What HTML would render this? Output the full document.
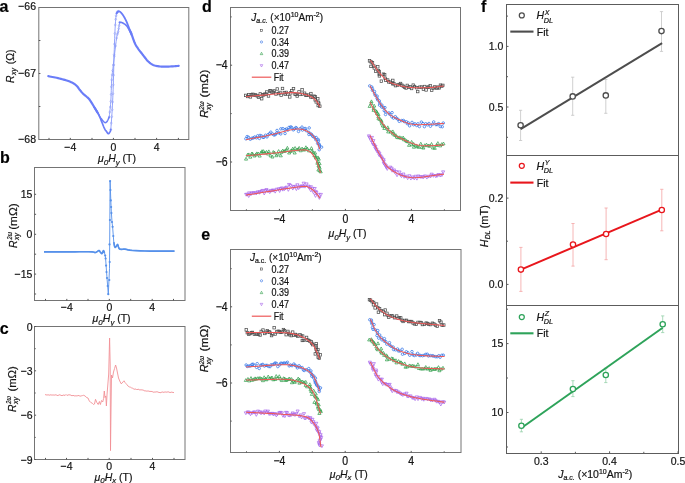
<!DOCTYPE html><html><head><meta charset="utf-8"><style>html,body{margin:0;padding:0;background:#fff;width:685px;height:483px;overflow:hidden}svg{display:block;will-change:transform}text{font-family:"Liberation Sans",sans-serif;fill:#141414;stroke:#141414;stroke-width:0.2px}</style></head><body>
<svg width="685" height="483" viewBox="0 0 685 483">
<g>
<rect width="685" height="483" fill="#fff"/>
<text x="-0.6" y="11.8" font-size="16" text-anchor="start" font-weight="bold" style="fill:#000">a</text>
<text x="0" y="162.5" font-size="16" text-anchor="start" font-weight="bold" style="fill:#000">b</text>
<text x="-0.3" y="334" font-size="16" text-anchor="start" font-weight="bold" style="fill:#000">c</text>
<text x="202" y="11.8" font-size="16" text-anchor="start" font-weight="bold" style="fill:#000">d</text>
<text x="201.2" y="240.3" font-size="16" text-anchor="start" font-weight="bold" style="fill:#000">e</text>
<text x="481" y="11.8" font-size="16" text-anchor="start" font-weight="bold" style="fill:#000">f</text>
<rect x="38.8" y="7.5" width="150" height="132" fill="none" stroke="#747474" stroke-width="1"/>
<text transform="translate(36,10.3) scale(1,1.1)" font-size="10.5" text-anchor="end" >−66</text>
<text transform="translate(36,77.1) scale(1,1.1)" font-size="10.5" text-anchor="end" >−67</text>
<text transform="translate(36,143.2) scale(1,1.1)" font-size="10.5" text-anchor="end" >−68</text>
<line x1="38.8" y1="40.5" x2="40.4" y2="40.5" stroke="#555" stroke-width="1" />
<line x1="38.8" y1="73.5" x2="40.4" y2="73.5" stroke="#555" stroke-width="1" />
<line x1="38.8" y1="106.5" x2="40.4" y2="106.5" stroke="#555" stroke-width="1" />
<text transform="translate(70.3,151) scale(1,1.1)" font-size="10.5" text-anchor="middle" >−4</text>
<text transform="translate(113.4,151) scale(1,1.1)" font-size="10.5" text-anchor="middle" >0</text>
<text transform="translate(156.6,151) scale(1,1.1)" font-size="10.5" text-anchor="middle" >4</text>
<line x1="49" y1="139.5" x2="49" y2="137.9" stroke="#555" stroke-width="1" />
<line x1="70.3" y1="139.5" x2="70.3" y2="137.9" stroke="#555" stroke-width="1" />
<line x1="92" y1="139.5" x2="92" y2="137.9" stroke="#555" stroke-width="1" />
<line x1="113.4" y1="139.5" x2="113.4" y2="137.9" stroke="#555" stroke-width="1" />
<line x1="135" y1="139.5" x2="135" y2="137.9" stroke="#555" stroke-width="1" />
<line x1="156.6" y1="139.5" x2="156.6" y2="137.9" stroke="#555" stroke-width="1" />
<line x1="178.4" y1="139.5" x2="178.4" y2="137.9" stroke="#555" stroke-width="1" />
<polyline points="110.8,129.5 111.04,126.26 111.28,123.09 111.52,119.92 111.76,116.68 111.98,113.3 112.2,109.7 112.4,105.91 112.6,101.97 112.79,97.89 112.97,93.67 113.14,89.31 113.3,84.8 113.45,80.08 113.57,75.14 113.69,70.06 113.81,64.9 113.95,59.76 114.1,54.7 114.28,49.51 114.47,44.07 114.67,38.64 114.88,33.47 115.09,28.81 115.3,24.9 115.5,21.8 115.7,19.33 115.9,17.36 116.11,15.78 116.34,14.47 116.6,13.3 116.89,12.41 117.21,11.92 117.56,11.7 117.91,11.61 118.26,11.52 118.6,11.3" fill="none" stroke="#8597fa" stroke-width="0.9" stroke-opacity="1" stroke-linejoin="round" stroke-linecap="round"/>
<polyline points="109.2,117.1 109.47,114.55 109.76,112.08 110.04,109.61 110.32,107.06 110.57,104.35 110.8,101.4 110.98,98.08 111.13,94.42 111.25,90.6 111.37,86.79 111.52,83.17 111.7,79.9 111.91,77.17 112.12,74.89 112.35,72.79 112.61,70.61 112.93,68.1 113.3,65 113.77,60.98 114.34,56.17 114.95,51.03 115.56,46.01 116.13,41.55 116.6,38.1 116.97,35.85 117.27,34.49 117.52,33.69 117.74,33.13 117.96,32.51 118.2,31.5 118.44,30.13 118.68,28.65 118.91,27.11 119.14,25.53 119.37,23.95 119.6,22.4" fill="none" stroke="#8597fa" stroke-width="0.9" stroke-opacity="1" stroke-linejoin="round" stroke-linecap="round"/>
<circle cx="110.8" cy="129.5" r="0.9" fill="none" stroke="#8d9bf5" stroke-width="0.5"/>
<circle cx="111.28" cy="123.09" r="0.9" fill="none" stroke="#8d9bf5" stroke-width="0.5"/>
<circle cx="111.76" cy="116.68" r="0.9" fill="none" stroke="#8d9bf5" stroke-width="0.5"/>
<circle cx="112.2" cy="109.7" r="0.9" fill="none" stroke="#8d9bf5" stroke-width="0.5"/>
<circle cx="112.6" cy="101.97" r="0.9" fill="none" stroke="#8d9bf5" stroke-width="0.5"/>
<circle cx="112.97" cy="93.67" r="0.9" fill="none" stroke="#8d9bf5" stroke-width="0.5"/>
<circle cx="113.3" cy="84.8" r="0.9" fill="none" stroke="#8d9bf5" stroke-width="0.5"/>
<circle cx="113.57" cy="75.14" r="0.9" fill="none" stroke="#8d9bf5" stroke-width="0.5"/>
<circle cx="113.81" cy="64.9" r="0.9" fill="none" stroke="#8d9bf5" stroke-width="0.5"/>
<circle cx="114.1" cy="54.7" r="0.9" fill="none" stroke="#8d9bf5" stroke-width="0.5"/>
<circle cx="114.47" cy="44.07" r="0.9" fill="none" stroke="#8d9bf5" stroke-width="0.5"/>
<circle cx="114.88" cy="33.47" r="0.9" fill="none" stroke="#8d9bf5" stroke-width="0.5"/>
<circle cx="115.3" cy="24.9" r="0.9" fill="none" stroke="#8d9bf5" stroke-width="0.5"/>
<circle cx="115.7" cy="19.33" r="0.9" fill="none" stroke="#8d9bf5" stroke-width="0.5"/>
<circle cx="116.11" cy="15.78" r="0.9" fill="none" stroke="#8d9bf5" stroke-width="0.5"/>
<circle cx="116.6" cy="13.3" r="0.9" fill="none" stroke="#8d9bf5" stroke-width="0.5"/>
<circle cx="117.21" cy="11.92" r="0.9" fill="none" stroke="#8d9bf5" stroke-width="0.5"/>
<circle cx="117.91" cy="11.61" r="0.9" fill="none" stroke="#8d9bf5" stroke-width="0.5"/>
<circle cx="118.6" cy="11.3" r="0.9" fill="none" stroke="#8d9bf5" stroke-width="0.5"/>
<circle cx="109.2" cy="117.1" r="0.9" fill="none" stroke="#8d9bf5" stroke-width="0.5"/>
<circle cx="109.76" cy="112.08" r="0.9" fill="none" stroke="#8d9bf5" stroke-width="0.5"/>
<circle cx="110.32" cy="107.06" r="0.9" fill="none" stroke="#8d9bf5" stroke-width="0.5"/>
<circle cx="110.8" cy="101.4" r="0.9" fill="none" stroke="#8d9bf5" stroke-width="0.5"/>
<circle cx="111.13" cy="94.42" r="0.9" fill="none" stroke="#8d9bf5" stroke-width="0.5"/>
<circle cx="111.37" cy="86.79" r="0.9" fill="none" stroke="#8d9bf5" stroke-width="0.5"/>
<circle cx="111.7" cy="79.9" r="0.9" fill="none" stroke="#8d9bf5" stroke-width="0.5"/>
<circle cx="112.12" cy="74.89" r="0.9" fill="none" stroke="#8d9bf5" stroke-width="0.5"/>
<circle cx="112.61" cy="70.61" r="0.9" fill="none" stroke="#8d9bf5" stroke-width="0.5"/>
<circle cx="113.3" cy="65" r="0.9" fill="none" stroke="#8d9bf5" stroke-width="0.5"/>
<circle cx="114.34" cy="56.17" r="0.9" fill="none" stroke="#8d9bf5" stroke-width="0.5"/>
<circle cx="115.56" cy="46.01" r="0.9" fill="none" stroke="#8d9bf5" stroke-width="0.5"/>
<circle cx="116.6" cy="38.1" r="0.9" fill="none" stroke="#8d9bf5" stroke-width="0.5"/>
<circle cx="117.27" cy="34.49" r="0.9" fill="none" stroke="#8d9bf5" stroke-width="0.5"/>
<circle cx="117.74" cy="33.13" r="0.9" fill="none" stroke="#8d9bf5" stroke-width="0.5"/>
<circle cx="118.2" cy="31.5" r="0.9" fill="none" stroke="#8d9bf5" stroke-width="0.5"/>
<circle cx="118.68" cy="28.65" r="0.9" fill="none" stroke="#8d9bf5" stroke-width="0.5"/>
<circle cx="119.14" cy="25.53" r="0.9" fill="none" stroke="#8d9bf5" stroke-width="0.5"/>
<circle cx="119.6" cy="22.4" r="0.9" fill="none" stroke="#8d9bf5" stroke-width="0.5"/>
<polyline points="48.3,76.2 49.68,76.46 51.07,76.71 52.46,76.97 53.84,77.23 55.22,77.5 56.6,77.8 58.01,78.13 59.46,78.48 60.91,78.84 62.31,79.21 63.62,79.57 64.8,79.9 65.83,80.2 66.74,80.49 67.56,80.76 68.32,81.03 69.06,81.3 69.8,81.6 70.54,81.91 71.26,82.21 71.95,82.52 72.62,82.86 73.27,83.21 73.9,83.6 74.52,84.03 75.12,84.49 75.71,84.97 76.27,85.47 76.8,85.98 77.3,86.5 77.75,87.02 78.14,87.55 78.51,88.09 78.87,88.65 79.26,89.22 79.7,89.8 80.2,90.41 80.73,91.06 81.29,91.72 81.86,92.38 82.43,93.01 83,93.6 83.56,94.13 84.13,94.62 84.7,95.08 85.27,95.54 85.84,96 86.4,96.5 86.94,96.98 87.46,97.42 87.98,97.87 88.51,98.38 89.08,99.01 89.7,99.8 90.41,100.82 91.19,102.04 92.01,103.37 92.82,104.74 93.6,106.04 94.3,107.2 94.91,108.2 95.47,109.12 95.99,109.98 96.49,110.81 96.98,111.64 97.5,112.5" fill="none" stroke="#6a7df8" stroke-width="2.2" stroke-opacity="1" stroke-linejoin="round" stroke-linecap="round"/>
<polyline points="94.3,107.2 94.84,108.09 95.39,108.98 95.94,109.87 96.49,110.76 97.01,111.63 97.5,112.5 97.94,113.29 98.32,113.99 98.69,114.68 99.07,115.44 99.49,116.36 100,117.5 100.62,119 101.34,120.82 102.11,122.79 102.88,124.74 103.59,126.5 104.2,127.9 104.7,128.91 105.12,129.66 105.49,130.21 105.83,130.66 106.16,131.06 106.5,131.5 106.84,132 107.17,132.5 107.48,132.96 107.79,133.34 108.09,133.6 108.4,133.7 108.72,133.59 109.05,133.29 109.38,132.86 109.69,132.38 109.97,131.91 110.2,131.5 110.37,131.16 110.49,130.82 110.58,130.49 110.64,130.16 110.71,129.83 110.8,129.5" fill="none" stroke="#6a7df8" stroke-width="1.7" stroke-opacity="1" stroke-linejoin="round" stroke-linecap="round"/>
<polyline points="94.3,107.2 94.84,108.06 95.39,108.92 95.94,109.79 96.49,110.64 97.01,111.48 97.5,112.3 97.96,113.1 98.38,113.88 98.79,114.64 99.19,115.39 99.59,116.11 100,116.8 100.43,117.47 100.87,118.12 101.31,118.74 101.74,119.34 102.18,119.89 102.6,120.4 103.02,120.89 103.43,121.36 103.84,121.79 104.24,122.16 104.63,122.44 105,122.6 105.35,122.65 105.69,122.6 106.01,122.46 106.33,122.23 106.66,121.91 107,121.5 107.36,120.96 107.72,120.28 108.09,119.51 108.46,118.69 108.83,117.87 109.2,117.1" fill="none" stroke="#6a7df8" stroke-width="1.5" stroke-opacity="1" stroke-linejoin="round" stroke-linecap="round"/>
<polyline points="116.6,13.3 116.92,12.92 117.23,12.49 117.54,12.05 117.86,11.67 118.21,11.4 118.6,11.3 119.03,11.35 119.49,11.5 119.97,11.76 120.48,12.14 121.02,12.65 121.6,13.3 122.22,14.1 122.89,15.04 123.58,16.11 124.29,17.29 125,18.56 125.7,19.9 126.41,21.43 127.16,23.19 127.9,25.03 128.61,26.84 129.26,28.47 129.8,29.8 130.22,30.78 130.54,31.49 130.8,32.04 131.02,32.5 131.24,32.96 131.5,33.5" fill="none" stroke="#6a7df8" stroke-width="1.8" stroke-opacity="1" stroke-linejoin="round" stroke-linecap="round"/>
<polyline points="119.6,22.4 119.86,22.39 120.12,22.37 120.38,22.35 120.64,22.34 120.91,22.35 121.2,22.4 121.5,22.47 121.79,22.54 122.09,22.64 122.42,22.78 122.79,22.96 123.2,23.2 123.68,23.49 124.21,23.82 124.79,24.2 125.37,24.63 125.95,25.13 126.5,25.7 127.03,26.37 127.56,27.15 128.08,27.99 128.59,28.85 129.06,29.7 129.5,30.5 129.89,31.25 130.24,31.97 130.56,32.68 130.87,33.39 131.18,34.09 131.5,34.8" fill="none" stroke="#6a7df8" stroke-width="1.6" stroke-opacity="1" stroke-linejoin="round" stroke-linecap="round"/>
<polyline points="129.8,30.5 130.06,31.06 130.31,31.54 130.55,32.03 130.81,32.58 131.12,33.28 131.5,34.2 131.96,35.42 132.49,36.91 133.06,38.54 133.65,40.2 134.24,41.76 134.8,43.1 135.34,44.21 135.87,45.19 136.39,46.07 136.92,46.9 137.46,47.69 138,48.5 138.56,49.31 139.13,50.09 139.71,50.84 140.28,51.57 140.85,52.29 141.4,53 141.93,53.69 142.44,54.36 142.94,55.01 143.45,55.66 143.96,56.32 144.5,57 145.04,57.71 145.58,58.44 146.13,59.17 146.71,59.91 147.33,60.62 148,61.3 148.75,61.97 149.56,62.64 150.41,63.29 151.28,63.9 152.15,64.44 153,64.9 153.83,65.26 154.67,65.54 155.5,65.75 156.33,65.92 157.17,66.06 158,66.2 158.81,66.32 159.59,66.42 160.38,66.49 161.19,66.54 162.05,66.57 163,66.6 164.03,66.62 165.12,66.62 166.27,66.61 167.47,66.59 168.71,66.55 170,66.5 171.35,66.43 172.77,66.34 174.24,66.23 175.74,66.12 177.23,66.01 178.7,65.9" fill="none" stroke="#6a7df8" stroke-width="2.2" stroke-opacity="1" stroke-linejoin="round" stroke-linecap="round"/>
<g transform="translate(13.9,82.9) rotate(-90)"><text x="0" y="0" font-size="10.5" font-style="italic">R</text><text x="7.8" y="2.4" font-size="7" font-style="italic">xy</text><text x="18.6" y="0" font-size="10.5">(Ω)</text></g>
<text x="98" y="162.3" font-size="10.5"><tspan font-style="italic">μ</tspan><tspan font-style="italic" font-size="7.98" dy="2.52">0</tspan><tspan font-style="italic" dy="-2.52">H</tspan><tspan font-style="italic" font-size="7.77" dy="2.52">y</tspan><tspan dy="-2.52"> (T)</tspan></text>
<rect x="34.5" y="167.5" width="150.5" height="133" fill="none" stroke="#747474" stroke-width="1"/>
<text transform="translate(32.3,198.3) scale(1,1.1)" font-size="10.5" text-anchor="end" >15</text>
<line x1="34.5" y1="194.3" x2="36.1" y2="194.3" stroke="#555" stroke-width="1" />
<text transform="translate(32.3,238.3) scale(1,1.1)" font-size="10.5" text-anchor="end" >0</text>
<line x1="34.5" y1="234.3" x2="36.1" y2="234.3" stroke="#555" stroke-width="1" />
<text transform="translate(32.3,278.1) scale(1,1.1)" font-size="10.5" text-anchor="end" >−15</text>
<line x1="34.5" y1="274.1" x2="36.1" y2="274.1" stroke="#555" stroke-width="1" />
<line x1="34.5" y1="214.3" x2="36.1" y2="214.3" stroke="#555" stroke-width="1" />
<line x1="34.5" y1="254.2" x2="36.1" y2="254.2" stroke="#555" stroke-width="1" />
<line x1="34.5" y1="294" x2="36.1" y2="294" stroke="#555" stroke-width="1" />
<text transform="translate(66.8,311.4) scale(1,1.1)" font-size="10.5" text-anchor="middle" >−4</text>
<text transform="translate(109.3,311.4) scale(1,1.1)" font-size="10.5" text-anchor="middle" >0</text>
<text transform="translate(152.2,311.4) scale(1,1.1)" font-size="10.5" text-anchor="middle" >4</text>
<line x1="45.5" y1="300.5" x2="45.5" y2="298.9" stroke="#555" stroke-width="1" />
<line x1="66.8" y1="300.5" x2="66.8" y2="298.9" stroke="#555" stroke-width="1" />
<line x1="88" y1="300.5" x2="88" y2="298.9" stroke="#555" stroke-width="1" />
<line x1="109.3" y1="300.5" x2="109.3" y2="298.9" stroke="#555" stroke-width="1" />
<line x1="130.7" y1="300.5" x2="130.7" y2="298.9" stroke="#555" stroke-width="1" />
<line x1="152.2" y1="300.5" x2="152.2" y2="298.9" stroke="#555" stroke-width="1" />
<line x1="173.5" y1="300.5" x2="173.5" y2="298.9" stroke="#555" stroke-width="1" />
<polyline points="44,251.9 60,251.9 75,251.8 92,251.8 95,252.6 97,251.7 99,250.5 100.5,252.4 102,253.6 103.5,250.6 104.5,253 105.2,255.5 105.6,258.5 106.1,265.6 107,278 108.3,294.2 109.5,268.7 110.1,181.1 110.8,200.4 111.4,213 112,222 112.6,226.8 113.3,236 113.8,242.2 114.5,246 115.5,247.3 117.5,244.5 118.5,247 119.5,249 122,249.3 125,249.2 132.5,250.5 150,251.1 174.5,251.1" fill="none" stroke="#5590ea" stroke-width="0.9" stroke-linejoin="round"/>
<polyline points="44,251.9 48.02,251.9 52.06,251.91 56.07,251.91 60,251.9 63.77,251.88 67.44,251.85 71.13,251.82 75,251.8 79.44,251.77 84.25,251.74 88.69,251.74 92,251.8 93.76,251.98 94.44,252.26 94.65,252.5 95,252.6 95.57,252.5 96.06,252.28 96.52,251.99 97,251.7 97.51,251.35 98.03,250.92 98.54,250.59 99,250.5 99.41,250.77 99.78,251.3 100.14,251.9 100.5,252.4 100.88,252.85 101.25,253.31 101.62,253.61 102,253.6 102.39,253.02 102.78,252.02 103.16,251.07 103.5,250.6 103.79,250.82 104.03,251.46 104.26,252.27 104.5,253" fill="none" stroke="#5590ea" stroke-width="1.7" stroke-linejoin="round"/>
<polyline points="113.8,242.2 113.97,243.21 114.13,244.26 114.3,245.23 114.5,246 114.71,246.6 114.92,247.06 115.17,247.32 115.5,247.3 115.95,246.76 116.5,245.83 117.05,244.92 117.5,244.5 117.82,244.76 118.06,245.45 118.27,246.29 118.5,247 118.71,247.57 118.91,248.14 119.14,248.63 119.5,249 120.01,249.2 120.62,249.28 121.3,249.29 122,249.3 122.61,249.27 123.19,249.19 123.92,249.14 125,249.2 126.32,249.44 127.84,249.81 129.82,250.19 132.5,250.5 136.01,250.71 140.19,250.88 144.9,251.01 150,251.1 155.63,251.14 161.81,251.14 168.21,251.11 174.5,251.1" fill="none" stroke="#5590ea" stroke-width="1.7" stroke-linejoin="round"/>
<circle cx="108.3" cy="294.2" r="1.1" fill="#5590ea"/>
<circle cx="107.7" cy="286" r="1.1" fill="#5590ea"/>
<circle cx="107" cy="278" r="1.1" fill="#5590ea"/>
<circle cx="106.5" cy="272" r="1.1" fill="#5590ea"/>
<circle cx="106.1" cy="265.6" r="1.1" fill="#5590ea"/>
<circle cx="105.6" cy="258.5" r="1.1" fill="#5590ea"/>
<circle cx="105.2" cy="255.5" r="1.1" fill="#5590ea"/>
<circle cx="110.1" cy="181.1" r="1.1" fill="#5590ea"/>
<circle cx="110.4" cy="190" r="1.1" fill="#5590ea"/>
<circle cx="110.8" cy="200.4" r="1.1" fill="#5590ea"/>
<circle cx="111.1" cy="207" r="1.1" fill="#5590ea"/>
<circle cx="111.4" cy="213" r="1.1" fill="#5590ea"/>
<circle cx="112" cy="222" r="1.1" fill="#5590ea"/>
<circle cx="112.6" cy="226.8" r="1.1" fill="#5590ea"/>
<circle cx="113.3" cy="236" r="1.1" fill="#5590ea"/>
<circle cx="109.5" cy="244.4" r="1.1" fill="#5590ea"/>
<circle cx="109.7" cy="262" r="1.1" fill="#5590ea"/>
<circle cx="109.3" cy="280" r="1.1" fill="#5590ea"/>
<circle cx="109.9" cy="220" r="1.1" fill="#5590ea"/>
<g transform="translate(16.5,248) rotate(-90)">
<text x="0" y="0" font-size="10.5" font-style="italic">R</text>
<text x="8.6" y="-4.8" font-size="6.8" font-style="italic" textLength="7.4" lengthAdjust="spacingAndGlyphs">2ω</text>
<text x="8" y="2.6" font-size="7" font-style="italic">xy</text>
<text x="18.2" y="0" font-size="11" textLength="26.4" lengthAdjust="spacingAndGlyphs">(mΩ)</text>
</g>
<text x="92.6" y="322" font-size="10.5"><tspan font-style="italic">μ</tspan><tspan font-style="italic" font-size="7.98" dy="2.52">0</tspan><tspan font-style="italic" dy="-2.52">H</tspan><tspan font-style="italic" font-size="7.77" dy="2.52">y</tspan><tspan dy="-2.52"> (T)</tspan></text>
<rect x="34.5" y="326.5" width="150.5" height="133" fill="none" stroke="#747474" stroke-width="1"/>
<text transform="translate(32.6,330.5) scale(1,1.1)" font-size="10.5" text-anchor="end" >0</text>
<line x1="34.5" y1="326.5" x2="36.1" y2="326.5" stroke="#555" stroke-width="1" />
<text transform="translate(32.6,374.8) scale(1,1.1)" font-size="10.5" text-anchor="end" >−3</text>
<line x1="34.5" y1="370.8" x2="36.1" y2="370.8" stroke="#555" stroke-width="1" />
<text transform="translate(32.6,419.2) scale(1,1.1)" font-size="10.5" text-anchor="end" >−6</text>
<line x1="34.5" y1="415.2" x2="36.1" y2="415.2" stroke="#555" stroke-width="1" />
<text transform="translate(32.6,463.5) scale(1,1.1)" font-size="10.5" text-anchor="end" >−9</text>
<line x1="34.5" y1="459.5" x2="36.1" y2="459.5" stroke="#555" stroke-width="1" />
<line x1="34.5" y1="348.7" x2="35.7" y2="348.7" stroke="#555" stroke-width="1" />
<line x1="34.5" y1="393" x2="35.7" y2="393" stroke="#555" stroke-width="1" />
<line x1="34.5" y1="437.4" x2="35.7" y2="437.4" stroke="#555" stroke-width="1" />
<text transform="translate(66.5,470) scale(1,1.1)" font-size="10.5" text-anchor="middle" >−4</text>
<text transform="translate(109.2,470) scale(1,1.1)" font-size="10.5" text-anchor="middle" >0</text>
<text transform="translate(152.5,470) scale(1,1.1)" font-size="10.5" text-anchor="middle" >4</text>
<line x1="45.5" y1="459.5" x2="45.5" y2="457.9" stroke="#555" stroke-width="1" />
<line x1="66.5" y1="459.5" x2="66.5" y2="457.9" stroke="#555" stroke-width="1" />
<line x1="88" y1="459.5" x2="88" y2="457.9" stroke="#555" stroke-width="1" />
<line x1="109.2" y1="459.5" x2="109.2" y2="457.9" stroke="#555" stroke-width="1" />
<line x1="131" y1="459.5" x2="131" y2="457.9" stroke="#555" stroke-width="1" />
<line x1="152.5" y1="459.5" x2="152.5" y2="457.9" stroke="#555" stroke-width="1" />
<line x1="174" y1="459.5" x2="174" y2="457.9" stroke="#555" stroke-width="1" />
<polyline points="45,394.79 46,394.62 47,395.26 48,394.61 49,395.2 50,395.04 51,394.71 52,395.29 53,394.76 54,395.28 55,394.88 56,394.87 57,395.24 58,395.68 59,394.8 60,394.89 61,395.33 62,395.68 63,395.2 64,394.95 65,395.61 66,394.46 67,395.52 68,394.93 69,394.84 70,394.9 71,395.21 72,395.91 73,395.24 74,395.81 75,395.97 76,395.73 77,396.02 78,395.52 79,395.59 80,396.2 81.2,395.9 82.4,395.6 83.6,395.3 85.2,396 86.5,397.5 88,398 89.3,401 90.6,402.3 92.4,403.3 93.5,404.5 94.5,404 95.5,399.3 96.8,402.5 98.2,404.5 99.4,401.5 100.4,404.5 101.5,400.5 102.7,402 103.6,398.5 104.3,391 105,397.5 105.8,396 106.4,406 107,395 107.8,385 108.7,374 109.6,338 110.2,365 110.5,450.6 111,410 111.5,375 112.5,378 113.5,372 114.55,368.5 115.6,365 116.5,368 117.5,373 118.5,378 119.75,381 121,383.65 122,383.22 123,381.91 124,380.78 125,382.44 126,383.61 127,384.76 128.17,386.19 129.33,386.91 130.5,387.19 131.62,387.96 132.75,388.28 133.88,389.08 135,389.28 136,388.91 137,389.91 138,389.04 139,389.57 140,390.14 141,389.58 142,390.15 143,389.78 144,390.7 145,390.94 146,390.84 147,391.33 148,390.78 149,391.36 150,391.36 151,391.47 152,391.45 153,392.03 154,392.28 155,391.84 156,392.2 157,391.51 158,392.31 159,392.28 160,392.73 161,392.55 162,391.94 163,392.1 164,392.47 165,391.73 166,392.29 167,391.97 168,391.94 169,391.9 170,392.79 171,392.06 172,392.23 173,392.44 174,392.6" fill="none" stroke="#f29196" stroke-width="0.9" stroke-linejoin="round"/>
<g transform="translate(15.5,412) rotate(-90)">
<text x="0" y="0" font-size="10.5" font-style="italic">R</text>
<text x="8.3" y="-4.8" font-size="6.8" font-style="italic" textLength="7.4" lengthAdjust="spacingAndGlyphs">2ω</text>
<text x="8" y="2.8" font-size="7" font-style="italic">xy</text>
<text x="20.4" y="0" font-size="11" textLength="25.5" lengthAdjust="spacingAndGlyphs">(mΩ)</text>
</g>
<text x="94.5" y="480.5" font-size="10.5"><tspan font-style="italic">μ</tspan><tspan font-style="italic" font-size="7.98" dy="2.52">0</tspan><tspan font-style="italic" dy="-2.52">H</tspan><tspan font-style="italic" font-size="7.77" dy="2.52">x</tspan><tspan dy="-2.52"> (T)</tspan></text>
<rect x="230.5" y="7.5" width="230" height="203" fill="none" stroke="#747474" stroke-width="1"/>
<text transform="translate(227.6,69.4) scale(1,1.16)" font-size="10.5" text-anchor="end" >−4</text>
<line x1="230.5" y1="65.2" x2="232.1" y2="65.2" stroke="#555" stroke-width="1" />
<text transform="translate(227.6,166.2) scale(1,1.16)" font-size="10.5" text-anchor="end" >−6</text>
<line x1="230.5" y1="162" x2="232.1" y2="162" stroke="#555" stroke-width="1" />
<line x1="230.5" y1="16.9" x2="231.7" y2="16.9" stroke="#555" stroke-width="1" />
<line x1="230.5" y1="113.6" x2="231.7" y2="113.6" stroke="#555" stroke-width="1" />
<text transform="translate(279.4,223.3) scale(1,1.16)" font-size="10.5" text-anchor="middle" >−4</text>
<line x1="279.4" y1="210.5" x2="279.4" y2="208.9" stroke="#555" stroke-width="1" />
<text transform="translate(345.4,223.3) scale(1,1.16)" font-size="10.5" text-anchor="middle" >0</text>
<line x1="345.4" y1="210.5" x2="345.4" y2="208.9" stroke="#555" stroke-width="1" />
<text transform="translate(411.4,223.3) scale(1,1.16)" font-size="10.5" text-anchor="middle" >4</text>
<line x1="411.4" y1="210.5" x2="411.4" y2="208.9" stroke="#555" stroke-width="1" />
<line x1="246.4" y1="210.5" x2="246.4" y2="209.3" stroke="#555" stroke-width="1" />
<line x1="312.4" y1="210.5" x2="312.4" y2="209.3" stroke="#555" stroke-width="1" />
<line x1="378.4" y1="210.5" x2="378.4" y2="209.3" stroke="#555" stroke-width="1" />
<line x1="444.4" y1="210.5" x2="444.4" y2="209.3" stroke="#555" stroke-width="1" />
<rect x="244.63" y="94.16" width="2.5" height="2.5" fill="none" stroke="#4a4a4a" stroke-width="0.72"/>
<rect x="246.35" y="95.24" width="2.5" height="2.5" fill="none" stroke="#4a4a4a" stroke-width="0.72"/>
<rect x="247.45" y="93.38" width="2.5" height="2.5" fill="none" stroke="#4a4a4a" stroke-width="0.72"/>
<rect x="249.18" y="95.64" width="2.5" height="2.5" fill="none" stroke="#4a4a4a" stroke-width="0.72"/>
<rect x="250.23" y="93.47" width="2.5" height="2.5" fill="none" stroke="#4a4a4a" stroke-width="0.72"/>
<rect x="251.56" y="93.06" width="2.5" height="2.5" fill="none" stroke="#4a4a4a" stroke-width="0.72"/>
<rect x="252.99" y="94" width="2.5" height="2.5" fill="none" stroke="#4a4a4a" stroke-width="0.72"/>
<rect x="254.34" y="93.67" width="2.5" height="2.5" fill="none" stroke="#4a4a4a" stroke-width="0.72"/>
<rect x="256.04" y="94.63" width="2.5" height="2.5" fill="none" stroke="#4a4a4a" stroke-width="0.72"/>
<rect x="257.24" y="95.91" width="2.5" height="2.5" fill="none" stroke="#4a4a4a" stroke-width="0.72"/>
<rect x="259.02" y="92.64" width="2.5" height="2.5" fill="none" stroke="#4a4a4a" stroke-width="0.72"/>
<rect x="260.43" y="97.48" width="2.5" height="2.5" fill="none" stroke="#4a4a4a" stroke-width="0.72"/>
<rect x="261.09" y="93.71" width="2.5" height="2.5" fill="none" stroke="#4a4a4a" stroke-width="0.72"/>
<rect x="262.34" y="93.66" width="2.5" height="2.5" fill="none" stroke="#4a4a4a" stroke-width="0.72"/>
<rect x="263.55" y="92.95" width="2.5" height="2.5" fill="none" stroke="#4a4a4a" stroke-width="0.72"/>
<rect x="264.81" y="92.88" width="2.5" height="2.5" fill="none" stroke="#4a4a4a" stroke-width="0.72"/>
<rect x="265.63" y="90.77" width="2.5" height="2.5" fill="none" stroke="#4a4a4a" stroke-width="0.72"/>
<rect x="267.25" y="94.72" width="2.5" height="2.5" fill="none" stroke="#4a4a4a" stroke-width="0.72"/>
<rect x="268.56" y="89.67" width="2.5" height="2.5" fill="none" stroke="#4a4a4a" stroke-width="0.72"/>
<rect x="269.57" y="89.63" width="2.5" height="2.5" fill="none" stroke="#4a4a4a" stroke-width="0.72"/>
<rect x="270.65" y="90.82" width="2.5" height="2.5" fill="none" stroke="#4a4a4a" stroke-width="0.72"/>
<rect x="272.14" y="91.06" width="2.5" height="2.5" fill="none" stroke="#4a4a4a" stroke-width="0.72"/>
<rect x="273.11" y="89.67" width="2.5" height="2.5" fill="none" stroke="#4a4a4a" stroke-width="0.72"/>
<rect x="274.66" y="92.73" width="2.5" height="2.5" fill="none" stroke="#4a4a4a" stroke-width="0.72"/>
<rect x="276.02" y="87.71" width="2.5" height="2.5" fill="none" stroke="#4a4a4a" stroke-width="0.72"/>
<rect x="277.42" y="92.25" width="2.5" height="2.5" fill="none" stroke="#4a4a4a" stroke-width="0.72"/>
<rect x="278.76" y="91.22" width="2.5" height="2.5" fill="none" stroke="#4a4a4a" stroke-width="0.72"/>
<rect x="279.91" y="93.99" width="2.5" height="2.5" fill="none" stroke="#4a4a4a" stroke-width="0.72"/>
<rect x="281.26" y="87.25" width="2.5" height="2.5" fill="none" stroke="#4a4a4a" stroke-width="0.72"/>
<rect x="283.07" y="91.55" width="2.5" height="2.5" fill="none" stroke="#4a4a4a" stroke-width="0.72"/>
<rect x="283.95" y="93" width="2.5" height="2.5" fill="none" stroke="#4a4a4a" stroke-width="0.72"/>
<rect x="285.08" y="91.18" width="2.5" height="2.5" fill="none" stroke="#4a4a4a" stroke-width="0.72"/>
<rect x="286.49" y="92.72" width="2.5" height="2.5" fill="none" stroke="#4a4a4a" stroke-width="0.72"/>
<rect x="288.52" y="95.66" width="2.5" height="2.5" fill="none" stroke="#4a4a4a" stroke-width="0.72"/>
<rect x="289.48" y="91.67" width="2.5" height="2.5" fill="none" stroke="#4a4a4a" stroke-width="0.72"/>
<rect x="290.62" y="89.55" width="2.5" height="2.5" fill="none" stroke="#4a4a4a" stroke-width="0.72"/>
<rect x="292.25" y="87.41" width="2.5" height="2.5" fill="none" stroke="#4a4a4a" stroke-width="0.72"/>
<rect x="293.78" y="93.04" width="2.5" height="2.5" fill="none" stroke="#4a4a4a" stroke-width="0.72"/>
<rect x="294.85" y="93.21" width="2.5" height="2.5" fill="none" stroke="#4a4a4a" stroke-width="0.72"/>
<rect x="295.95" y="94.78" width="2.5" height="2.5" fill="none" stroke="#4a4a4a" stroke-width="0.72"/>
<rect x="297.76" y="90.65" width="2.5" height="2.5" fill="none" stroke="#4a4a4a" stroke-width="0.72"/>
<rect x="298.76" y="93.18" width="2.5" height="2.5" fill="none" stroke="#4a4a4a" stroke-width="0.72"/>
<rect x="300.82" y="88.61" width="2.5" height="2.5" fill="none" stroke="#4a4a4a" stroke-width="0.72"/>
<rect x="301.1" y="93.04" width="2.5" height="2.5" fill="none" stroke="#4a4a4a" stroke-width="0.72"/>
<rect x="303.32" y="91.97" width="2.5" height="2.5" fill="none" stroke="#4a4a4a" stroke-width="0.72"/>
<rect x="304.49" y="93.81" width="2.5" height="2.5" fill="none" stroke="#4a4a4a" stroke-width="0.72"/>
<rect x="305.33" y="94.09" width="2.5" height="2.5" fill="none" stroke="#4a4a4a" stroke-width="0.72"/>
<rect x="307.42" y="93.9" width="2.5" height="2.5" fill="none" stroke="#4a4a4a" stroke-width="0.72"/>
<rect x="309.65" y="92.32" width="2.5" height="2.5" fill="none" stroke="#4a4a4a" stroke-width="0.72"/>
<rect x="309.58" y="95.67" width="2.5" height="2.5" fill="none" stroke="#4a4a4a" stroke-width="0.72"/>
<rect x="311.05" y="95.85" width="2.5" height="2.5" fill="none" stroke="#4a4a4a" stroke-width="0.72"/>
<rect x="312.86" y="94.95" width="2.5" height="2.5" fill="none" stroke="#4a4a4a" stroke-width="0.72"/>
<rect x="313.97" y="95.59" width="2.5" height="2.5" fill="none" stroke="#4a4a4a" stroke-width="0.72"/>
<rect x="313.94" y="98.6" width="2.5" height="2.5" fill="none" stroke="#4a4a4a" stroke-width="0.72"/>
<rect x="316.53" y="97.44" width="2.5" height="2.5" fill="none" stroke="#4a4a4a" stroke-width="0.72"/>
<rect x="314.99" y="100.67" width="2.5" height="2.5" fill="none" stroke="#4a4a4a" stroke-width="0.72"/>
<rect x="317.05" y="101.08" width="2.5" height="2.5" fill="none" stroke="#4a4a4a" stroke-width="0.72"/>
<rect x="317.52" y="102.06" width="2.5" height="2.5" fill="none" stroke="#4a4a4a" stroke-width="0.72"/>
<rect x="316.94" y="104.29" width="2.5" height="2.5" fill="none" stroke="#4a4a4a" stroke-width="0.72"/>
<rect x="318.55" y="104.95" width="2.5" height="2.5" fill="none" stroke="#4a4a4a" stroke-width="0.72"/>
<rect x="368.28" y="59.61" width="2.5" height="2.5" fill="none" stroke="#4a4a4a" stroke-width="0.72"/>
<rect x="369.88" y="60.66" width="2.5" height="2.5" fill="none" stroke="#4a4a4a" stroke-width="0.72"/>
<rect x="371.22" y="61.62" width="2.5" height="2.5" fill="none" stroke="#4a4a4a" stroke-width="0.72"/>
<rect x="369.71" y="65.14" width="2.5" height="2.5" fill="none" stroke="#4a4a4a" stroke-width="0.72"/>
<rect x="372.58" y="64.8" width="2.5" height="2.5" fill="none" stroke="#4a4a4a" stroke-width="0.72"/>
<rect x="373.05" y="66.7" width="2.5" height="2.5" fill="none" stroke="#4a4a4a" stroke-width="0.72"/>
<rect x="376.51" y="65.56" width="2.5" height="2.5" fill="none" stroke="#4a4a4a" stroke-width="0.72"/>
<rect x="374.37" y="70.1" width="2.5" height="2.5" fill="none" stroke="#4a4a4a" stroke-width="0.72"/>
<rect x="377.24" y="69.6" width="2.5" height="2.5" fill="none" stroke="#4a4a4a" stroke-width="0.72"/>
<rect x="378" y="70.56" width="2.5" height="2.5" fill="none" stroke="#4a4a4a" stroke-width="0.72"/>
<rect x="378.03" y="72.86" width="2.5" height="2.5" fill="none" stroke="#4a4a4a" stroke-width="0.72"/>
<rect x="378.15" y="74.63" width="2.5" height="2.5" fill="none" stroke="#4a4a4a" stroke-width="0.72"/>
<rect x="382.17" y="72.92" width="2.5" height="2.5" fill="none" stroke="#4a4a4a" stroke-width="0.72"/>
<rect x="383.4" y="73.55" width="2.5" height="2.5" fill="none" stroke="#4a4a4a" stroke-width="0.72"/>
<rect x="380.11" y="79.9" width="2.5" height="2.5" fill="none" stroke="#4a4a4a" stroke-width="0.72"/>
<rect x="383.85" y="77.11" width="2.5" height="2.5" fill="none" stroke="#4a4a4a" stroke-width="0.72"/>
<rect x="384.5" y="78.9" width="2.5" height="2.5" fill="none" stroke="#4a4a4a" stroke-width="0.72"/>
<rect x="386.42" y="78.77" width="2.5" height="2.5" fill="none" stroke="#4a4a4a" stroke-width="0.72"/>
<rect x="387.45" y="80.63" width="2.5" height="2.5" fill="none" stroke="#4a4a4a" stroke-width="0.72"/>
<rect x="389.19" y="81.09" width="2.5" height="2.5" fill="none" stroke="#4a4a4a" stroke-width="0.72"/>
<rect x="391.54" y="79.16" width="2.5" height="2.5" fill="none" stroke="#4a4a4a" stroke-width="0.72"/>
<rect x="391.36" y="82.51" width="2.5" height="2.5" fill="none" stroke="#4a4a4a" stroke-width="0.72"/>
<rect x="392.64" y="82.49" width="2.5" height="2.5" fill="none" stroke="#4a4a4a" stroke-width="0.72"/>
<rect x="394.22" y="84.4" width="2.5" height="2.5" fill="none" stroke="#4a4a4a" stroke-width="0.72"/>
<rect x="396.25" y="83.77" width="2.5" height="2.5" fill="none" stroke="#4a4a4a" stroke-width="0.72"/>
<rect x="397.9" y="83.28" width="2.5" height="2.5" fill="none" stroke="#4a4a4a" stroke-width="0.72"/>
<rect x="399.29" y="82.26" width="2.5" height="2.5" fill="none" stroke="#4a4a4a" stroke-width="0.72"/>
<rect x="400.59" y="83.96" width="2.5" height="2.5" fill="none" stroke="#4a4a4a" stroke-width="0.72"/>
<rect x="402.07" y="84.96" width="2.5" height="2.5" fill="none" stroke="#4a4a4a" stroke-width="0.72"/>
<rect x="403.25" y="86.05" width="2.5" height="2.5" fill="none" stroke="#4a4a4a" stroke-width="0.72"/>
<rect x="404.79" y="86.75" width="2.5" height="2.5" fill="none" stroke="#4a4a4a" stroke-width="0.72"/>
<rect x="406.06" y="84.16" width="2.5" height="2.5" fill="none" stroke="#4a4a4a" stroke-width="0.72"/>
<rect x="407.51" y="86.02" width="2.5" height="2.5" fill="none" stroke="#4a4a4a" stroke-width="0.72"/>
<rect x="408.89" y="85.44" width="2.5" height="2.5" fill="none" stroke="#4a4a4a" stroke-width="0.72"/>
<rect x="410.31" y="87.25" width="2.5" height="2.5" fill="none" stroke="#4a4a4a" stroke-width="0.72"/>
<rect x="412" y="83.87" width="2.5" height="2.5" fill="none" stroke="#4a4a4a" stroke-width="0.72"/>
<rect x="413.33" y="85.28" width="2.5" height="2.5" fill="none" stroke="#4a4a4a" stroke-width="0.72"/>
<rect x="415.37" y="86.41" width="2.5" height="2.5" fill="none" stroke="#4a4a4a" stroke-width="0.72"/>
<rect x="416.46" y="90.3" width="2.5" height="2.5" fill="none" stroke="#4a4a4a" stroke-width="0.72"/>
<rect x="418.5" y="85.99" width="2.5" height="2.5" fill="none" stroke="#4a4a4a" stroke-width="0.72"/>
<rect x="420.14" y="85.77" width="2.5" height="2.5" fill="none" stroke="#4a4a4a" stroke-width="0.72"/>
<rect x="422.16" y="87.95" width="2.5" height="2.5" fill="none" stroke="#4a4a4a" stroke-width="0.72"/>
<rect x="423.41" y="85.28" width="2.5" height="2.5" fill="none" stroke="#4a4a4a" stroke-width="0.72"/>
<rect x="424.86" y="88.69" width="2.5" height="2.5" fill="none" stroke="#4a4a4a" stroke-width="0.72"/>
<rect x="426.34" y="86.02" width="2.5" height="2.5" fill="none" stroke="#4a4a4a" stroke-width="0.72"/>
<rect x="427.43" y="85.93" width="2.5" height="2.5" fill="none" stroke="#4a4a4a" stroke-width="0.72"/>
<rect x="429" y="84.54" width="2.5" height="2.5" fill="none" stroke="#4a4a4a" stroke-width="0.72"/>
<rect x="430.46" y="88.94" width="2.5" height="2.5" fill="none" stroke="#4a4a4a" stroke-width="0.72"/>
<rect x="431.94" y="86.99" width="2.5" height="2.5" fill="none" stroke="#4a4a4a" stroke-width="0.72"/>
<rect x="433.6" y="85.69" width="2.5" height="2.5" fill="none" stroke="#4a4a4a" stroke-width="0.72"/>
<rect x="435.63" y="86.84" width="2.5" height="2.5" fill="none" stroke="#4a4a4a" stroke-width="0.72"/>
<rect x="436.65" y="85.85" width="2.5" height="2.5" fill="none" stroke="#4a4a4a" stroke-width="0.72"/>
<rect x="438.11" y="86.66" width="2.5" height="2.5" fill="none" stroke="#4a4a4a" stroke-width="0.72"/>
<rect x="439.23" y="83.91" width="2.5" height="2.5" fill="none" stroke="#4a4a4a" stroke-width="0.72"/>
<rect x="440.58" y="85.03" width="2.5" height="2.5" fill="none" stroke="#4a4a4a" stroke-width="0.72"/>
<rect x="441.58" y="84.12" width="2.5" height="2.5" fill="none" stroke="#4a4a4a" stroke-width="0.72"/>
<circle cx="245.87" cy="138.78" r="1.26" fill="none" stroke="#2d6fe6" stroke-width="0.72"/>
<circle cx="247.11" cy="136.59" r="1.26" fill="none" stroke="#2d6fe6" stroke-width="0.72"/>
<circle cx="248.51" cy="137.28" r="1.26" fill="none" stroke="#2d6fe6" stroke-width="0.72"/>
<circle cx="250.34" cy="139.26" r="1.26" fill="none" stroke="#2d6fe6" stroke-width="0.72"/>
<circle cx="252.07" cy="138.18" r="1.26" fill="none" stroke="#2d6fe6" stroke-width="0.72"/>
<circle cx="253.49" cy="137.97" r="1.26" fill="none" stroke="#2d6fe6" stroke-width="0.72"/>
<circle cx="254.77" cy="136.97" r="1.26" fill="none" stroke="#2d6fe6" stroke-width="0.72"/>
<circle cx="256.46" cy="137.88" r="1.26" fill="none" stroke="#2d6fe6" stroke-width="0.72"/>
<circle cx="257.71" cy="135.79" r="1.26" fill="none" stroke="#2d6fe6" stroke-width="0.72"/>
<circle cx="259.45" cy="138.41" r="1.26" fill="none" stroke="#2d6fe6" stroke-width="0.72"/>
<circle cx="260.01" cy="135.43" r="1.26" fill="none" stroke="#2d6fe6" stroke-width="0.72"/>
<circle cx="261.52" cy="135.9" r="1.26" fill="none" stroke="#2d6fe6" stroke-width="0.72"/>
<circle cx="263.06" cy="137.38" r="1.26" fill="none" stroke="#2d6fe6" stroke-width="0.72"/>
<circle cx="263.98" cy="137.17" r="1.26" fill="none" stroke="#2d6fe6" stroke-width="0.72"/>
<circle cx="265.52" cy="135.26" r="1.26" fill="none" stroke="#2d6fe6" stroke-width="0.72"/>
<circle cx="266.96" cy="136.86" r="1.26" fill="none" stroke="#2d6fe6" stroke-width="0.72"/>
<circle cx="268.2" cy="134.66" r="1.26" fill="none" stroke="#2d6fe6" stroke-width="0.72"/>
<circle cx="269.49" cy="133.7" r="1.26" fill="none" stroke="#2d6fe6" stroke-width="0.72"/>
<circle cx="270.8" cy="132.16" r="1.26" fill="none" stroke="#2d6fe6" stroke-width="0.72"/>
<circle cx="272.68" cy="133.99" r="1.26" fill="none" stroke="#2d6fe6" stroke-width="0.72"/>
<circle cx="274.05" cy="135.05" r="1.26" fill="none" stroke="#2d6fe6" stroke-width="0.72"/>
<circle cx="275.25" cy="134.6" r="1.26" fill="none" stroke="#2d6fe6" stroke-width="0.72"/>
<circle cx="276.36" cy="133.39" r="1.26" fill="none" stroke="#2d6fe6" stroke-width="0.72"/>
<circle cx="277.03" cy="130.46" r="1.26" fill="none" stroke="#2d6fe6" stroke-width="0.72"/>
<circle cx="279.03" cy="132.89" r="1.26" fill="none" stroke="#2d6fe6" stroke-width="0.72"/>
<circle cx="280.75" cy="133.92" r="1.26" fill="none" stroke="#2d6fe6" stroke-width="0.72"/>
<circle cx="280.86" cy="128.85" r="1.26" fill="none" stroke="#2d6fe6" stroke-width="0.72"/>
<circle cx="282.91" cy="128.63" r="1.26" fill="none" stroke="#2d6fe6" stroke-width="0.72"/>
<circle cx="285.06" cy="133.5" r="1.26" fill="none" stroke="#2d6fe6" stroke-width="0.72"/>
<circle cx="285.18" cy="129.56" r="1.26" fill="none" stroke="#2d6fe6" stroke-width="0.72"/>
<circle cx="286.49" cy="128.98" r="1.26" fill="none" stroke="#2d6fe6" stroke-width="0.72"/>
<circle cx="287.85" cy="130.13" r="1.26" fill="none" stroke="#2d6fe6" stroke-width="0.72"/>
<circle cx="289.01" cy="127.41" r="1.26" fill="none" stroke="#2d6fe6" stroke-width="0.72"/>
<circle cx="290.68" cy="126.9" r="1.26" fill="none" stroke="#2d6fe6" stroke-width="0.72"/>
<circle cx="291.58" cy="127.41" r="1.26" fill="none" stroke="#2d6fe6" stroke-width="0.72"/>
<circle cx="293.29" cy="129.86" r="1.26" fill="none" stroke="#2d6fe6" stroke-width="0.72"/>
<circle cx="294.41" cy="128.83" r="1.26" fill="none" stroke="#2d6fe6" stroke-width="0.72"/>
<circle cx="295.87" cy="127.53" r="1.26" fill="none" stroke="#2d6fe6" stroke-width="0.72"/>
<circle cx="296.61" cy="128.29" r="1.26" fill="none" stroke="#2d6fe6" stroke-width="0.72"/>
<circle cx="298.51" cy="131.43" r="1.26" fill="none" stroke="#2d6fe6" stroke-width="0.72"/>
<circle cx="299.97" cy="128.77" r="1.26" fill="none" stroke="#2d6fe6" stroke-width="0.72"/>
<circle cx="301.98" cy="127.1" r="1.26" fill="none" stroke="#2d6fe6" stroke-width="0.72"/>
<circle cx="302.49" cy="130.06" r="1.26" fill="none" stroke="#2d6fe6" stroke-width="0.72"/>
<circle cx="304.47" cy="128.69" r="1.26" fill="none" stroke="#2d6fe6" stroke-width="0.72"/>
<circle cx="305.5" cy="128.6" r="1.26" fill="none" stroke="#2d6fe6" stroke-width="0.72"/>
<circle cx="306.23" cy="130.67" r="1.26" fill="none" stroke="#2d6fe6" stroke-width="0.72"/>
<circle cx="309.19" cy="127.91" r="1.26" fill="none" stroke="#2d6fe6" stroke-width="0.72"/>
<circle cx="308.87" cy="132.34" r="1.26" fill="none" stroke="#2d6fe6" stroke-width="0.72"/>
<circle cx="308.92" cy="134.49" r="1.26" fill="none" stroke="#2d6fe6" stroke-width="0.72"/>
<circle cx="311.11" cy="134.03" r="1.26" fill="none" stroke="#2d6fe6" stroke-width="0.72"/>
<circle cx="311.92" cy="135.07" r="1.26" fill="none" stroke="#2d6fe6" stroke-width="0.72"/>
<circle cx="312.87" cy="136.39" r="1.26" fill="none" stroke="#2d6fe6" stroke-width="0.72"/>
<circle cx="314.24" cy="137.25" r="1.26" fill="none" stroke="#2d6fe6" stroke-width="0.72"/>
<circle cx="316.15" cy="137.5" r="1.26" fill="none" stroke="#2d6fe6" stroke-width="0.72"/>
<circle cx="315.8" cy="139.71" r="1.26" fill="none" stroke="#2d6fe6" stroke-width="0.72"/>
<circle cx="318.12" cy="139.45" r="1.26" fill="none" stroke="#2d6fe6" stroke-width="0.72"/>
<circle cx="318.47" cy="140.82" r="1.26" fill="none" stroke="#2d6fe6" stroke-width="0.72"/>
<circle cx="317.62" cy="143.39" r="1.26" fill="none" stroke="#2d6fe6" stroke-width="0.72"/>
<circle cx="318.88" cy="143.97" r="1.26" fill="none" stroke="#2d6fe6" stroke-width="0.72"/>
<circle cx="319.44" cy="145.11" r="1.26" fill="none" stroke="#2d6fe6" stroke-width="0.72"/>
<circle cx="319.64" cy="146.58" r="1.26" fill="none" stroke="#2d6fe6" stroke-width="0.72"/>
<circle cx="321.56" cy="147.13" r="1.26" fill="none" stroke="#2d6fe6" stroke-width="0.72"/>
<circle cx="319.24" cy="149.72" r="1.26" fill="none" stroke="#2d6fe6" stroke-width="0.72"/>
<circle cx="369.74" cy="85.89" r="1.26" fill="none" stroke="#2d6fe6" stroke-width="0.72"/>
<circle cx="371.74" cy="86.95" r="1.26" fill="none" stroke="#2d6fe6" stroke-width="0.72"/>
<circle cx="372.38" cy="88.57" r="1.26" fill="none" stroke="#2d6fe6" stroke-width="0.72"/>
<circle cx="372.45" cy="90.35" r="1.26" fill="none" stroke="#2d6fe6" stroke-width="0.72"/>
<circle cx="374.48" cy="91.42" r="1.26" fill="none" stroke="#2d6fe6" stroke-width="0.72"/>
<circle cx="374.59" cy="93.49" r="1.26" fill="none" stroke="#2d6fe6" stroke-width="0.72"/>
<circle cx="375.15" cy="95.24" r="1.26" fill="none" stroke="#2d6fe6" stroke-width="0.72"/>
<circle cx="377.09" cy="96.06" r="1.26" fill="none" stroke="#2d6fe6" stroke-width="0.72"/>
<circle cx="377.1" cy="98.25" r="1.26" fill="none" stroke="#2d6fe6" stroke-width="0.72"/>
<circle cx="377.7" cy="99.85" r="1.26" fill="none" stroke="#2d6fe6" stroke-width="0.72"/>
<circle cx="379.31" cy="100.87" r="1.26" fill="none" stroke="#2d6fe6" stroke-width="0.72"/>
<circle cx="379.78" cy="102.95" r="1.26" fill="none" stroke="#2d6fe6" stroke-width="0.72"/>
<circle cx="379.55" cy="105.09" r="1.26" fill="none" stroke="#2d6fe6" stroke-width="0.72"/>
<circle cx="381.84" cy="105.04" r="1.26" fill="none" stroke="#2d6fe6" stroke-width="0.72"/>
<circle cx="381.74" cy="107.06" r="1.26" fill="none" stroke="#2d6fe6" stroke-width="0.72"/>
<circle cx="383.36" cy="107.64" r="1.26" fill="none" stroke="#2d6fe6" stroke-width="0.72"/>
<circle cx="384.96" cy="107.58" r="1.26" fill="none" stroke="#2d6fe6" stroke-width="0.72"/>
<circle cx="384.26" cy="110.65" r="1.26" fill="none" stroke="#2d6fe6" stroke-width="0.72"/>
<circle cx="385.54" cy="111.63" r="1.26" fill="none" stroke="#2d6fe6" stroke-width="0.72"/>
<circle cx="385.54" cy="114.47" r="1.26" fill="none" stroke="#2d6fe6" stroke-width="0.72"/>
<circle cx="388.97" cy="112.91" r="1.26" fill="none" stroke="#2d6fe6" stroke-width="0.72"/>
<circle cx="389.84" cy="114.37" r="1.26" fill="none" stroke="#2d6fe6" stroke-width="0.72"/>
<circle cx="392.07" cy="112.63" r="1.26" fill="none" stroke="#2d6fe6" stroke-width="0.72"/>
<circle cx="391.81" cy="116.68" r="1.26" fill="none" stroke="#2d6fe6" stroke-width="0.72"/>
<circle cx="393.47" cy="118.06" r="1.26" fill="none" stroke="#2d6fe6" stroke-width="0.72"/>
<circle cx="395.3" cy="116.68" r="1.26" fill="none" stroke="#2d6fe6" stroke-width="0.72"/>
<circle cx="396.39" cy="118.22" r="1.26" fill="none" stroke="#2d6fe6" stroke-width="0.72"/>
<circle cx="397.91" cy="119.28" r="1.26" fill="none" stroke="#2d6fe6" stroke-width="0.72"/>
<circle cx="399.27" cy="121.33" r="1.26" fill="none" stroke="#2d6fe6" stroke-width="0.72"/>
<circle cx="401.7" cy="120.57" r="1.26" fill="none" stroke="#2d6fe6" stroke-width="0.72"/>
<circle cx="403.42" cy="120.45" r="1.26" fill="none" stroke="#2d6fe6" stroke-width="0.72"/>
<circle cx="404.37" cy="121.59" r="1.26" fill="none" stroke="#2d6fe6" stroke-width="0.72"/>
<circle cx="406.4" cy="121.77" r="1.26" fill="none" stroke="#2d6fe6" stroke-width="0.72"/>
<circle cx="407.3" cy="123.66" r="1.26" fill="none" stroke="#2d6fe6" stroke-width="0.72"/>
<circle cx="408.35" cy="122.88" r="1.26" fill="none" stroke="#2d6fe6" stroke-width="0.72"/>
<circle cx="409.62" cy="125.81" r="1.26" fill="none" stroke="#2d6fe6" stroke-width="0.72"/>
<circle cx="412.03" cy="122.4" r="1.26" fill="none" stroke="#2d6fe6" stroke-width="0.72"/>
<circle cx="413.58" cy="124.72" r="1.26" fill="none" stroke="#2d6fe6" stroke-width="0.72"/>
<circle cx="414.86" cy="123.79" r="1.26" fill="none" stroke="#2d6fe6" stroke-width="0.72"/>
<circle cx="416.68" cy="125.49" r="1.26" fill="none" stroke="#2d6fe6" stroke-width="0.72"/>
<circle cx="417.9" cy="123.79" r="1.26" fill="none" stroke="#2d6fe6" stroke-width="0.72"/>
<circle cx="419.42" cy="126.55" r="1.26" fill="none" stroke="#2d6fe6" stroke-width="0.72"/>
<circle cx="421.34" cy="122.07" r="1.26" fill="none" stroke="#2d6fe6" stroke-width="0.72"/>
<circle cx="422.99" cy="123.56" r="1.26" fill="none" stroke="#2d6fe6" stroke-width="0.72"/>
<circle cx="424.41" cy="126.68" r="1.26" fill="none" stroke="#2d6fe6" stroke-width="0.72"/>
<circle cx="425.77" cy="123.75" r="1.26" fill="none" stroke="#2d6fe6" stroke-width="0.72"/>
<circle cx="427.47" cy="124.8" r="1.26" fill="none" stroke="#2d6fe6" stroke-width="0.72"/>
<circle cx="428.96" cy="123.48" r="1.26" fill="none" stroke="#2d6fe6" stroke-width="0.72"/>
<circle cx="430.41" cy="126.24" r="1.26" fill="none" stroke="#2d6fe6" stroke-width="0.72"/>
<circle cx="432.69" cy="124.21" r="1.26" fill="none" stroke="#2d6fe6" stroke-width="0.72"/>
<circle cx="433.7" cy="121.92" r="1.26" fill="none" stroke="#2d6fe6" stroke-width="0.72"/>
<circle cx="435.99" cy="124.65" r="1.26" fill="none" stroke="#2d6fe6" stroke-width="0.72"/>
<circle cx="437.2" cy="124.49" r="1.26" fill="none" stroke="#2d6fe6" stroke-width="0.72"/>
<circle cx="438.66" cy="123.65" r="1.26" fill="none" stroke="#2d6fe6" stroke-width="0.72"/>
<circle cx="440.3" cy="126.49" r="1.26" fill="none" stroke="#2d6fe6" stroke-width="0.72"/>
<circle cx="442.28" cy="126.74" r="1.26" fill="none" stroke="#2d6fe6" stroke-width="0.72"/>
<circle cx="443.26" cy="123.03" r="1.26" fill="none" stroke="#2d6fe6" stroke-width="0.72"/>
<polygon points="246.05,157.31 247.61,160.12 244.48,160.12" fill="none" stroke="#2f9e4a" stroke-width="0.72"/>
<polygon points="247.58,153.24 249.15,156.05 246.02,156.05" fill="none" stroke="#2f9e4a" stroke-width="0.72"/>
<polygon points="248.84,152.93 250.41,155.74 247.28,155.74" fill="none" stroke="#2f9e4a" stroke-width="0.72"/>
<polygon points="250.3,155.36 251.87,158.17 248.74,158.17" fill="none" stroke="#2f9e4a" stroke-width="0.72"/>
<polygon points="251.79,152.03 253.36,154.85 250.23,154.85" fill="none" stroke="#2f9e4a" stroke-width="0.72"/>
<polygon points="252.62,152.36 254.18,155.17 251.06,155.17" fill="none" stroke="#2f9e4a" stroke-width="0.72"/>
<polygon points="254.41,154.15 255.97,156.97 252.85,156.97" fill="none" stroke="#2f9e4a" stroke-width="0.72"/>
<polygon points="255.89,153.1 257.46,155.92 254.33,155.92" fill="none" stroke="#2f9e4a" stroke-width="0.72"/>
<polygon points="256.74,151.88 258.3,154.69 255.17,154.69" fill="none" stroke="#2f9e4a" stroke-width="0.72"/>
<polygon points="258.18,152.01 259.74,154.82 256.62,154.82" fill="none" stroke="#2f9e4a" stroke-width="0.72"/>
<polygon points="259.7,154.25 261.26,157.06 258.13,157.06" fill="none" stroke="#2f9e4a" stroke-width="0.72"/>
<polygon points="261.04,150.99 262.6,153.8 259.48,153.8" fill="none" stroke="#2f9e4a" stroke-width="0.72"/>
<polygon points="262.05,149.71 263.62,152.52 260.49,152.52" fill="none" stroke="#2f9e4a" stroke-width="0.72"/>
<polygon points="263.49,149.69 265.05,152.5 261.93,152.5" fill="none" stroke="#2f9e4a" stroke-width="0.72"/>
<polygon points="265.02,151.33 266.58,154.14 263.46,154.14" fill="none" stroke="#2f9e4a" stroke-width="0.72"/>
<polygon points="266.5,150.43 268.06,153.24 264.94,153.24" fill="none" stroke="#2f9e4a" stroke-width="0.72"/>
<polygon points="268.1,152.23 269.66,155.04 266.54,155.04" fill="none" stroke="#2f9e4a" stroke-width="0.72"/>
<polygon points="268.81,149.88 270.38,152.69 267.25,152.69" fill="none" stroke="#2f9e4a" stroke-width="0.72"/>
<polygon points="270.59,154.06 272.15,156.87 269.03,156.87" fill="none" stroke="#2f9e4a" stroke-width="0.72"/>
<polygon points="272.46,155.19 274.02,158 270.89,158" fill="none" stroke="#2f9e4a" stroke-width="0.72"/>
<polygon points="273.3,150.49 274.86,153.3 271.73,153.3" fill="none" stroke="#2f9e4a" stroke-width="0.72"/>
<polygon points="274.42,151.02 275.99,153.83 272.86,153.83" fill="none" stroke="#2f9e4a" stroke-width="0.72"/>
<polygon points="276.4,153.88 277.96,156.7 274.84,156.7" fill="none" stroke="#2f9e4a" stroke-width="0.72"/>
<polygon points="277.86,152.32 279.43,155.13 276.3,155.13" fill="none" stroke="#2f9e4a" stroke-width="0.72"/>
<polygon points="278.62,149.6 280.19,152.41 277.06,152.41" fill="none" stroke="#2f9e4a" stroke-width="0.72"/>
<polygon points="280.78,154.01 282.34,156.82 279.21,156.82" fill="none" stroke="#2f9e4a" stroke-width="0.72"/>
<polygon points="281.39,150.58 282.95,153.39 279.83,153.39" fill="none" stroke="#2f9e4a" stroke-width="0.72"/>
<polygon points="282.7,149.15 284.26,151.96 281.14,151.96" fill="none" stroke="#2f9e4a" stroke-width="0.72"/>
<polygon points="284.02,149.55 285.58,152.37 282.46,152.37" fill="none" stroke="#2f9e4a" stroke-width="0.72"/>
<polygon points="285.35,149.2 286.91,152.01 283.79,152.01" fill="none" stroke="#2f9e4a" stroke-width="0.72"/>
<polygon points="286.74,148.43 288.3,151.24 285.18,151.24" fill="none" stroke="#2f9e4a" stroke-width="0.72"/>
<polygon points="287.37,146.34 288.93,149.15 285.81,149.15" fill="none" stroke="#2f9e4a" stroke-width="0.72"/>
<polygon points="289.17,151.18 290.74,153.99 287.61,153.99" fill="none" stroke="#2f9e4a" stroke-width="0.72"/>
<polygon points="290.54,149.53 292.1,152.35 288.98,152.35" fill="none" stroke="#2f9e4a" stroke-width="0.72"/>
<polygon points="291.94,148.93 293.5,151.75 290.38,151.75" fill="none" stroke="#2f9e4a" stroke-width="0.72"/>
<polygon points="292.79,147.11 294.35,149.93 291.22,149.93" fill="none" stroke="#2f9e4a" stroke-width="0.72"/>
<polygon points="294.72,151.17 296.28,153.98 293.15,153.98" fill="none" stroke="#2f9e4a" stroke-width="0.72"/>
<polygon points="295.09,146.54 296.65,149.36 293.53,149.36" fill="none" stroke="#2f9e4a" stroke-width="0.72"/>
<polygon points="297.12,147.97 298.68,150.79 295.56,150.79" fill="none" stroke="#2f9e4a" stroke-width="0.72"/>
<polygon points="298.37,147.72 299.94,150.54 296.81,150.54" fill="none" stroke="#2f9e4a" stroke-width="0.72"/>
<polygon points="299.21,146.43 300.78,149.24 297.65,149.24" fill="none" stroke="#2f9e4a" stroke-width="0.72"/>
<polygon points="300.69,148.93 302.25,151.75 299.12,151.75" fill="none" stroke="#2f9e4a" stroke-width="0.72"/>
<polygon points="302.1,147.04 303.66,149.85 300.54,149.85" fill="none" stroke="#2f9e4a" stroke-width="0.72"/>
<polygon points="303.33,148 304.9,150.81 301.77,150.81" fill="none" stroke="#2f9e4a" stroke-width="0.72"/>
<polygon points="304.76,148.06 306.32,150.87 303.19,150.87" fill="none" stroke="#2f9e4a" stroke-width="0.72"/>
<polygon points="305.88,145.79 307.44,148.6 304.32,148.6" fill="none" stroke="#2f9e4a" stroke-width="0.72"/>
<polygon points="307.3,147.03 308.86,149.85 305.74,149.85" fill="none" stroke="#2f9e4a" stroke-width="0.72"/>
<polygon points="309.02,149.03 310.58,151.85 307.46,151.85" fill="none" stroke="#2f9e4a" stroke-width="0.72"/>
<polygon points="311.44,146.65 313,149.46 309.88,149.46" fill="none" stroke="#2f9e4a" stroke-width="0.72"/>
<polygon points="311.98,149.61 313.54,152.42 310.41,152.42" fill="none" stroke="#2f9e4a" stroke-width="0.72"/>
<polygon points="313.18,150.66 314.74,153.47 311.61,153.47" fill="none" stroke="#2f9e4a" stroke-width="0.72"/>
<polygon points="315.05,151.26 316.61,154.07 313.49,154.07" fill="none" stroke="#2f9e4a" stroke-width="0.72"/>
<polygon points="314.43,153.75 316,156.56 312.87,156.56" fill="none" stroke="#2f9e4a" stroke-width="0.72"/>
<polygon points="315.57,154.61 317.13,157.43 314.01,157.43" fill="none" stroke="#2f9e4a" stroke-width="0.72"/>
<polygon points="315.8,156.13 317.36,158.95 314.24,158.95" fill="none" stroke="#2f9e4a" stroke-width="0.72"/>
<polygon points="318,155.92 319.56,158.73 316.44,158.73" fill="none" stroke="#2f9e4a" stroke-width="0.72"/>
<polygon points="318.76,157.3 320.32,160.11 317.19,160.11" fill="none" stroke="#2f9e4a" stroke-width="0.72"/>
<polygon points="317.88,159.6 319.44,162.41 316.32,162.41" fill="none" stroke="#2f9e4a" stroke-width="0.72"/>
<polygon points="317.4,161.41 318.96,164.23 315.84,164.23" fill="none" stroke="#2f9e4a" stroke-width="0.72"/>
<polygon points="319.56,161.89 321.12,164.7 318,164.7" fill="none" stroke="#2f9e4a" stroke-width="0.72"/>
<polygon points="318.52,163.8 320.09,166.61 316.96,166.61" fill="none" stroke="#2f9e4a" stroke-width="0.72"/>
<polygon points="319.09,164.93 320.65,167.74 317.53,167.74" fill="none" stroke="#2f9e4a" stroke-width="0.72"/>
<polygon points="319.67,166.3 321.24,169.11 318.11,169.11" fill="none" stroke="#2f9e4a" stroke-width="0.72"/>
<polygon points="318.39,168.21 319.95,171.02 316.83,171.02" fill="none" stroke="#2f9e4a" stroke-width="0.72"/>
<polygon points="319.8,168.97 321.36,171.79 318.24,171.79" fill="none" stroke="#2f9e4a" stroke-width="0.72"/>
<polygon points="320.69,169.98 322.25,172.8 319.13,172.8" fill="none" stroke="#2f9e4a" stroke-width="0.72"/>
<polygon points="371.44,99.88 373,102.69 369.87,102.69" fill="none" stroke="#2f9e4a" stroke-width="0.72"/>
<polygon points="371.22,101.68 372.78,104.49 369.65,104.49" fill="none" stroke="#2f9e4a" stroke-width="0.72"/>
<polygon points="369.68,104.61 371.24,107.42 368.12,107.42" fill="none" stroke="#2f9e4a" stroke-width="0.72"/>
<polygon points="374.18,104.22 375.74,107.03 372.61,107.03" fill="none" stroke="#2f9e4a" stroke-width="0.72"/>
<polygon points="373.65,106.61 375.21,109.42 372.09,109.42" fill="none" stroke="#2f9e4a" stroke-width="0.72"/>
<polygon points="373.58,108.53 375.14,111.35 372.02,111.35" fill="none" stroke="#2f9e4a" stroke-width="0.72"/>
<polygon points="375.78,109.3 377.35,112.11 374.22,112.11" fill="none" stroke="#2f9e4a" stroke-width="0.72"/>
<polygon points="376.62,110.07 378.18,112.88 375.05,112.88" fill="none" stroke="#2f9e4a" stroke-width="0.72"/>
<polygon points="377.1,111.8 378.66,114.61 375.54,114.61" fill="none" stroke="#2f9e4a" stroke-width="0.72"/>
<polygon points="378.47,112.88 380.03,115.69 376.91,115.69" fill="none" stroke="#2f9e4a" stroke-width="0.72"/>
<polygon points="378.37,115.01 379.93,117.83 376.8,117.83" fill="none" stroke="#2f9e4a" stroke-width="0.72"/>
<polygon points="378.5,117 380.06,119.81 376.94,119.81" fill="none" stroke="#2f9e4a" stroke-width="0.72"/>
<polygon points="380.1,117.66 381.66,120.47 378.53,120.47" fill="none" stroke="#2f9e4a" stroke-width="0.72"/>
<polygon points="381.3,118.84 382.87,121.65 379.74,121.65" fill="none" stroke="#2f9e4a" stroke-width="0.72"/>
<polygon points="381.54,120.28 383.11,123.09 379.98,123.09" fill="none" stroke="#2f9e4a" stroke-width="0.72"/>
<polygon points="381.99,122.08 383.55,124.89 380.42,124.89" fill="none" stroke="#2f9e4a" stroke-width="0.72"/>
<polygon points="382.86,124.14 384.42,126.95 381.29,126.95" fill="none" stroke="#2f9e4a" stroke-width="0.72"/>
<polygon points="384.42,124.55 385.98,127.36 382.85,127.36" fill="none" stroke="#2f9e4a" stroke-width="0.72"/>
<polygon points="384.37,126.65 385.94,129.46 382.81,129.46" fill="none" stroke="#2f9e4a" stroke-width="0.72"/>
<polygon points="387.74,125.86 389.3,128.67 386.18,128.67" fill="none" stroke="#2f9e4a" stroke-width="0.72"/>
<polygon points="387.84,127.81 389.4,130.62 386.27,130.62" fill="none" stroke="#2f9e4a" stroke-width="0.72"/>
<polygon points="388.23,130.11 389.79,132.92 386.67,132.92" fill="none" stroke="#2f9e4a" stroke-width="0.72"/>
<polygon points="390.86,130.33 392.42,133.14 389.3,133.14" fill="none" stroke="#2f9e4a" stroke-width="0.72"/>
<polygon points="392.87,129.94 394.44,132.75 391.31,132.75" fill="none" stroke="#2f9e4a" stroke-width="0.72"/>
<polygon points="392.98,131.99 394.55,134.8 391.42,134.8" fill="none" stroke="#2f9e4a" stroke-width="0.72"/>
<polygon points="394.36,133.22 395.93,136.03 392.8,136.03" fill="none" stroke="#2f9e4a" stroke-width="0.72"/>
<polygon points="395.81,133.64 397.38,136.45 394.25,136.45" fill="none" stroke="#2f9e4a" stroke-width="0.72"/>
<polygon points="396.76,135.32 398.33,138.13 395.2,138.13" fill="none" stroke="#2f9e4a" stroke-width="0.72"/>
<polygon points="398.11,135.91 399.67,138.72 396.55,138.72" fill="none" stroke="#2f9e4a" stroke-width="0.72"/>
<polygon points="399.82,135.81 401.38,138.62 398.26,138.62" fill="none" stroke="#2f9e4a" stroke-width="0.72"/>
<polygon points="401.25,136.52 402.81,139.33 399.69,139.33" fill="none" stroke="#2f9e4a" stroke-width="0.72"/>
<polygon points="403.17,136.04 404.73,138.85 401.61,138.85" fill="none" stroke="#2f9e4a" stroke-width="0.72"/>
<polygon points="403.8,137.89 405.37,140.71 402.24,140.71" fill="none" stroke="#2f9e4a" stroke-width="0.72"/>
<polygon points="405.59,138.56 407.16,141.37 404.03,141.37" fill="none" stroke="#2f9e4a" stroke-width="0.72"/>
<polygon points="406.75,139.62 408.32,142.43 405.19,142.43" fill="none" stroke="#2f9e4a" stroke-width="0.72"/>
<polygon points="408.15,140.07 409.71,142.89 406.59,142.89" fill="none" stroke="#2f9e4a" stroke-width="0.72"/>
<polygon points="409.06,143.51 410.62,146.32 407.5,146.32" fill="none" stroke="#2f9e4a" stroke-width="0.72"/>
<polygon points="411.62,140.43 413.19,143.24 410.06,143.24" fill="none" stroke="#2f9e4a" stroke-width="0.72"/>
<polygon points="411.83,143.05 413.39,145.86 410.27,145.86" fill="none" stroke="#2f9e4a" stroke-width="0.72"/>
<polygon points="413.68,142.51 415.24,145.32 412.12,145.32" fill="none" stroke="#2f9e4a" stroke-width="0.72"/>
<polygon points="413.93,145.4 415.49,148.21 412.36,148.21" fill="none" stroke="#2f9e4a" stroke-width="0.72"/>
<polygon points="416.03,143.94 417.59,146.75 414.46,146.75" fill="none" stroke="#2f9e4a" stroke-width="0.72"/>
<polygon points="417.26,144.83 418.82,147.65 415.7,147.65" fill="none" stroke="#2f9e4a" stroke-width="0.72"/>
<polygon points="418.77,145.48 420.34,148.29 417.21,148.29" fill="none" stroke="#2f9e4a" stroke-width="0.72"/>
<polygon points="420.79,142.21 422.35,145.02 419.23,145.02" fill="none" stroke="#2f9e4a" stroke-width="0.72"/>
<polygon points="421.83,145.48 423.39,148.3 420.26,148.3" fill="none" stroke="#2f9e4a" stroke-width="0.72"/>
<polygon points="423.36,146.25 424.92,149.06 421.79,149.06" fill="none" stroke="#2f9e4a" stroke-width="0.72"/>
<polygon points="424.68,143.81 426.24,146.63 423.12,146.63" fill="none" stroke="#2f9e4a" stroke-width="0.72"/>
<polygon points="426.49,143.17 428.05,145.98 424.92,145.98" fill="none" stroke="#2f9e4a" stroke-width="0.72"/>
<polygon points="428.26,144 429.83,146.81 426.7,146.81" fill="none" stroke="#2f9e4a" stroke-width="0.72"/>
<polygon points="429.76,144.38 431.33,147.19 428.2,147.19" fill="none" stroke="#2f9e4a" stroke-width="0.72"/>
<polygon points="431.52,142.52 433.09,145.34 429.96,145.34" fill="none" stroke="#2f9e4a" stroke-width="0.72"/>
<polygon points="432.96,146.12 434.52,148.93 431.4,148.93" fill="none" stroke="#2f9e4a" stroke-width="0.72"/>
<polygon points="434.71,146.49 436.28,149.31 433.15,149.31" fill="none" stroke="#2f9e4a" stroke-width="0.72"/>
<polygon points="436.56,143.65 438.13,146.46 435,146.46" fill="none" stroke="#2f9e4a" stroke-width="0.72"/>
<polygon points="437.85,141.62 439.41,144.43 436.29,144.43" fill="none" stroke="#2f9e4a" stroke-width="0.72"/>
<polygon points="440.17,144.04 441.73,146.86 438.6,146.86" fill="none" stroke="#2f9e4a" stroke-width="0.72"/>
<polygon points="441.67,142.68 443.23,145.5 440.11,145.5" fill="none" stroke="#2f9e4a" stroke-width="0.72"/>
<polygon points="443.47,142.03 445.03,144.84 441.9,144.84" fill="none" stroke="#2f9e4a" stroke-width="0.72"/>
<polygon points="246.16,196.2 247.72,193.38 244.59,193.38" fill="none" stroke="#a764ea" stroke-width="0.72"/>
<polygon points="247.14,196.08 248.7,193.27 245.57,193.27" fill="none" stroke="#a764ea" stroke-width="0.72"/>
<polygon points="248.71,197.53 250.28,194.72 247.15,194.72" fill="none" stroke="#a764ea" stroke-width="0.72"/>
<polygon points="249.12,194.68 250.69,191.87 247.56,191.87" fill="none" stroke="#a764ea" stroke-width="0.72"/>
<polygon points="250.94,195.67 252.5,192.86 249.38,192.86" fill="none" stroke="#a764ea" stroke-width="0.72"/>
<polygon points="251.57,194.79 253.13,191.98 250.01,191.98" fill="none" stroke="#a764ea" stroke-width="0.72"/>
<polygon points="253.35,194.51 254.91,191.69 251.79,191.69" fill="none" stroke="#a764ea" stroke-width="0.72"/>
<polygon points="254.81,194.61 256.37,191.79 253.24,191.79" fill="none" stroke="#a764ea" stroke-width="0.72"/>
<polygon points="256.27,194.92 257.83,192.11 254.71,192.11" fill="none" stroke="#a764ea" stroke-width="0.72"/>
<polygon points="257.67,193.68 259.24,190.87 256.11,190.87" fill="none" stroke="#a764ea" stroke-width="0.72"/>
<polygon points="259.38,194.22 260.94,191.41 257.81,191.41" fill="none" stroke="#a764ea" stroke-width="0.72"/>
<polygon points="259.88,193.49 261.44,190.67 258.32,190.67" fill="none" stroke="#a764ea" stroke-width="0.72"/>
<polygon points="261.8,192.73 263.37,189.92 260.24,189.92" fill="none" stroke="#a764ea" stroke-width="0.72"/>
<polygon points="262.86,192.25 264.42,189.43 261.3,189.43" fill="none" stroke="#a764ea" stroke-width="0.72"/>
<polygon points="264.23,194.96 265.8,192.15 262.67,192.15" fill="none" stroke="#a764ea" stroke-width="0.72"/>
<polygon points="265.61,192.44 267.17,189.63 264.05,189.63" fill="none" stroke="#a764ea" stroke-width="0.72"/>
<polygon points="266.47,191.36 268.03,188.55 264.91,188.55" fill="none" stroke="#a764ea" stroke-width="0.72"/>
<polygon points="267.93,192.76 269.49,189.95 266.37,189.95" fill="none" stroke="#a764ea" stroke-width="0.72"/>
<polygon points="269.76,193.62 271.32,190.81 268.2,190.81" fill="none" stroke="#a764ea" stroke-width="0.72"/>
<polygon points="271.08,192.24 272.65,189.43 269.52,189.43" fill="none" stroke="#a764ea" stroke-width="0.72"/>
<polygon points="272.6,192.02 274.16,189.2 271.03,189.2" fill="none" stroke="#a764ea" stroke-width="0.72"/>
<polygon points="273.55,192.1 275.11,189.28 271.99,189.28" fill="none" stroke="#a764ea" stroke-width="0.72"/>
<polygon points="275.16,193.14 276.72,190.33 273.6,190.33" fill="none" stroke="#a764ea" stroke-width="0.72"/>
<polygon points="276.5,191.06 278.06,188.25 274.94,188.25" fill="none" stroke="#a764ea" stroke-width="0.72"/>
<polygon points="278.43,190.79 280,187.98 276.87,187.98" fill="none" stroke="#a764ea" stroke-width="0.72"/>
<polygon points="279.63,192.46 281.19,189.64 278.07,189.64" fill="none" stroke="#a764ea" stroke-width="0.72"/>
<polygon points="280.37,190.4 281.93,187.59 278.81,187.59" fill="none" stroke="#a764ea" stroke-width="0.72"/>
<polygon points="281.83,189.72 283.39,186.91 280.27,186.91" fill="none" stroke="#a764ea" stroke-width="0.72"/>
<polygon points="282.82,191.13 284.38,188.32 281.26,188.32" fill="none" stroke="#a764ea" stroke-width="0.72"/>
<polygon points="284.47,190.6 286.04,187.79 282.91,187.79" fill="none" stroke="#a764ea" stroke-width="0.72"/>
<polygon points="285.58,189.68 287.14,186.87 284.01,186.87" fill="none" stroke="#a764ea" stroke-width="0.72"/>
<polygon points="286.69,188.96 288.25,186.15 285.13,186.15" fill="none" stroke="#a764ea" stroke-width="0.72"/>
<polygon points="288.33,191.33 289.89,188.51 286.76,188.51" fill="none" stroke="#a764ea" stroke-width="0.72"/>
<polygon points="289.03,186.27 290.6,183.46 287.47,183.46" fill="none" stroke="#a764ea" stroke-width="0.72"/>
<polygon points="290.5,187.17 292.06,184.36 288.93,184.36" fill="none" stroke="#a764ea" stroke-width="0.72"/>
<polygon points="292.81,190.06 294.37,187.25 291.24,187.25" fill="none" stroke="#a764ea" stroke-width="0.72"/>
<polygon points="293.57,188.4 295.13,185.59 292,185.59" fill="none" stroke="#a764ea" stroke-width="0.72"/>
<polygon points="295.02,188.12 296.59,185.31 293.46,185.31" fill="none" stroke="#a764ea" stroke-width="0.72"/>
<polygon points="296.38,190.57 297.94,187.76 294.82,187.76" fill="none" stroke="#a764ea" stroke-width="0.72"/>
<polygon points="297.38,186.62 298.94,183.81 295.81,183.81" fill="none" stroke="#a764ea" stroke-width="0.72"/>
<polygon points="298.68,189.59 300.24,186.78 297.11,186.78" fill="none" stroke="#a764ea" stroke-width="0.72"/>
<polygon points="300.06,188.24 301.62,185.43 298.5,185.43" fill="none" stroke="#a764ea" stroke-width="0.72"/>
<polygon points="301.46,187.77 303.02,184.96 299.89,184.96" fill="none" stroke="#a764ea" stroke-width="0.72"/>
<polygon points="303.02,188.07 304.59,185.26 301.46,185.26" fill="none" stroke="#a764ea" stroke-width="0.72"/>
<polygon points="303.7,184.99 305.26,182.18 302.14,182.18" fill="none" stroke="#a764ea" stroke-width="0.72"/>
<polygon points="304.98,188.13 306.55,185.32 303.42,185.32" fill="none" stroke="#a764ea" stroke-width="0.72"/>
<polygon points="306.55,185.73 308.12,182.92 304.99,182.92" fill="none" stroke="#a764ea" stroke-width="0.72"/>
<polygon points="308.46,187.95 310.02,185.14 306.89,185.14" fill="none" stroke="#a764ea" stroke-width="0.72"/>
<polygon points="308.91,189.04 310.47,186.23 307.35,186.23" fill="none" stroke="#a764ea" stroke-width="0.72"/>
<polygon points="310.89,188.53 312.45,185.72 309.33,185.72" fill="none" stroke="#a764ea" stroke-width="0.72"/>
<polygon points="310.75,191.79 312.31,188.98 309.18,188.98" fill="none" stroke="#a764ea" stroke-width="0.72"/>
<polygon points="312.62,190.19 314.18,187.37 311.06,187.37" fill="none" stroke="#a764ea" stroke-width="0.72"/>
<polygon points="314.68,190.29 316.24,187.48 313.11,187.48" fill="none" stroke="#a764ea" stroke-width="0.72"/>
<polygon points="313.53,193.95 315.09,191.14 311.97,191.14" fill="none" stroke="#a764ea" stroke-width="0.72"/>
<polygon points="315.66,193.25 317.22,190.43 314.09,190.43" fill="none" stroke="#a764ea" stroke-width="0.72"/>
<polygon points="316.35,194.31 317.91,191.5 314.79,191.5" fill="none" stroke="#a764ea" stroke-width="0.72"/>
<polygon points="315.51,197.38 317.07,194.57 313.95,194.57" fill="none" stroke="#a764ea" stroke-width="0.72"/>
<polygon points="318.7,196.14 320.26,193.33 317.14,193.33" fill="none" stroke="#a764ea" stroke-width="0.72"/>
<polygon points="320.86,196.2 322.42,193.38 319.3,193.38" fill="none" stroke="#a764ea" stroke-width="0.72"/>
<polygon points="319.36,199.38 320.92,196.57 317.79,196.57" fill="none" stroke="#a764ea" stroke-width="0.72"/>
<polygon points="368.98,137.66 370.54,134.85 367.42,134.85" fill="none" stroke="#a764ea" stroke-width="0.72"/>
<polygon points="369.43,138.98 371,136.17 367.87,136.17" fill="none" stroke="#a764ea" stroke-width="0.72"/>
<polygon points="371.93,139.22 373.49,136.41 370.37,136.41" fill="none" stroke="#a764ea" stroke-width="0.72"/>
<polygon points="370.84,141.76 372.41,138.95 369.28,138.95" fill="none" stroke="#a764ea" stroke-width="0.72"/>
<polygon points="373.38,142.39 374.95,139.58 371.82,139.58" fill="none" stroke="#a764ea" stroke-width="0.72"/>
<polygon points="372.5,144.36 374.06,141.55 370.94,141.55" fill="none" stroke="#a764ea" stroke-width="0.72"/>
<polygon points="373.16,146.03 374.73,143.22 371.6,143.22" fill="none" stroke="#a764ea" stroke-width="0.72"/>
<polygon points="374.36,146.76 375.92,143.94 372.8,143.94" fill="none" stroke="#a764ea" stroke-width="0.72"/>
<polygon points="375.39,148.23 376.95,145.42 373.82,145.42" fill="none" stroke="#a764ea" stroke-width="0.72"/>
<polygon points="375.3,149.94 376.86,147.13 373.73,147.13" fill="none" stroke="#a764ea" stroke-width="0.72"/>
<polygon points="376.45,151.09 378.01,148.27 374.88,148.27" fill="none" stroke="#a764ea" stroke-width="0.72"/>
<polygon points="377.09,152.96 378.65,150.14 375.52,150.14" fill="none" stroke="#a764ea" stroke-width="0.72"/>
<polygon points="378.34,153.71 379.9,150.9 376.77,150.9" fill="none" stroke="#a764ea" stroke-width="0.72"/>
<polygon points="379.41,154.95 380.97,152.14 377.84,152.14" fill="none" stroke="#a764ea" stroke-width="0.72"/>
<polygon points="379.15,156.59 380.71,153.78 377.59,153.78" fill="none" stroke="#a764ea" stroke-width="0.72"/>
<polygon points="380.41,157.62 381.97,154.8 378.85,154.8" fill="none" stroke="#a764ea" stroke-width="0.72"/>
<polygon points="381.52,158.84 383.09,156.02 379.96,156.02" fill="none" stroke="#a764ea" stroke-width="0.72"/>
<polygon points="382.13,160.25 383.69,157.44 380.57,157.44" fill="none" stroke="#a764ea" stroke-width="0.72"/>
<polygon points="383.55,161.46 385.11,158.65 381.98,158.65" fill="none" stroke="#a764ea" stroke-width="0.72"/>
<polygon points="383.72,162.92 385.28,160.11 382.16,160.11" fill="none" stroke="#a764ea" stroke-width="0.72"/>
<polygon points="383.73,164.88 385.29,162.06 382.17,162.06" fill="none" stroke="#a764ea" stroke-width="0.72"/>
<polygon points="384.77,166.3 386.34,163.48 383.21,163.48" fill="none" stroke="#a764ea" stroke-width="0.72"/>
<polygon points="385.82,167.54 387.38,164.72 384.26,164.72" fill="none" stroke="#a764ea" stroke-width="0.72"/>
<polygon points="386.52,169.02 388.08,166.2 384.96,166.2" fill="none" stroke="#a764ea" stroke-width="0.72"/>
<polygon points="387.26,170.41 388.82,167.6 385.69,167.6" fill="none" stroke="#a764ea" stroke-width="0.72"/>
<polygon points="390.21,168.94 391.77,166.13 388.65,166.13" fill="none" stroke="#a764ea" stroke-width="0.72"/>
<polygon points="391.61,169.98 393.17,167.16 390.04,167.16" fill="none" stroke="#a764ea" stroke-width="0.72"/>
<polygon points="392.07,172.16 393.63,169.35 390.51,169.35" fill="none" stroke="#a764ea" stroke-width="0.72"/>
<polygon points="394.01,171.76 395.57,168.95 392.44,168.95" fill="none" stroke="#a764ea" stroke-width="0.72"/>
<polygon points="394.59,173.56 396.16,170.75 393.03,170.75" fill="none" stroke="#a764ea" stroke-width="0.72"/>
<polygon points="396.41,173.46 397.98,170.65 394.85,170.65" fill="none" stroke="#a764ea" stroke-width="0.72"/>
<polygon points="397.04,176.73 398.6,173.91 395.47,173.91" fill="none" stroke="#a764ea" stroke-width="0.72"/>
<polygon points="399.53,173.81 401.09,171 397.97,171" fill="none" stroke="#a764ea" stroke-width="0.72"/>
<polygon points="400.59,176.31 402.16,173.5 399.03,173.5" fill="none" stroke="#a764ea" stroke-width="0.72"/>
<polygon points="401.46,177.64 403.02,174.83 399.9,174.83" fill="none" stroke="#a764ea" stroke-width="0.72"/>
<polygon points="403.4,175.87 404.97,173.06 401.84,173.06" fill="none" stroke="#a764ea" stroke-width="0.72"/>
<polygon points="404.11,178.34 405.67,175.52 402.55,175.52" fill="none" stroke="#a764ea" stroke-width="0.72"/>
<polygon points="405.65,178.02 407.21,175.21 404.08,175.21" fill="none" stroke="#a764ea" stroke-width="0.72"/>
<polygon points="407.66,179.65 409.22,176.84 406.1,176.84" fill="none" stroke="#a764ea" stroke-width="0.72"/>
<polygon points="409.33,177.57 410.89,174.75 407.77,174.75" fill="none" stroke="#a764ea" stroke-width="0.72"/>
<polygon points="410.85,180.05 412.41,177.24 409.28,177.24" fill="none" stroke="#a764ea" stroke-width="0.72"/>
<polygon points="412.61,178.75 414.17,175.94 411.05,175.94" fill="none" stroke="#a764ea" stroke-width="0.72"/>
<polygon points="414.24,179.88 415.8,177.07 412.68,177.07" fill="none" stroke="#a764ea" stroke-width="0.72"/>
<polygon points="415.5,178.08 417.06,175.26 413.94,175.26" fill="none" stroke="#a764ea" stroke-width="0.72"/>
<polygon points="416.91,180.16 418.48,177.35 415.35,177.35" fill="none" stroke="#a764ea" stroke-width="0.72"/>
<polygon points="418.4,177.8 419.96,174.99 416.83,174.99" fill="none" stroke="#a764ea" stroke-width="0.72"/>
<polygon points="420.23,178.44 421.79,175.63 418.67,175.63" fill="none" stroke="#a764ea" stroke-width="0.72"/>
<polygon points="422.08,178.67 423.64,175.85 420.52,175.85" fill="none" stroke="#a764ea" stroke-width="0.72"/>
<polygon points="423.5,178.68 425.06,175.87 421.94,175.87" fill="none" stroke="#a764ea" stroke-width="0.72"/>
<polygon points="425.03,177.75 426.6,174.94 423.47,174.94" fill="none" stroke="#a764ea" stroke-width="0.72"/>
<polygon points="426.88,179.07 428.44,176.26 425.32,176.26" fill="none" stroke="#a764ea" stroke-width="0.72"/>
<polygon points="428.78,178.06 430.35,175.25 427.22,175.25" fill="none" stroke="#a764ea" stroke-width="0.72"/>
<polygon points="430.68,177.84 432.24,175.02 429.12,175.02" fill="none" stroke="#a764ea" stroke-width="0.72"/>
<polygon points="431.69,176.01 433.25,173.19 430.13,173.19" fill="none" stroke="#a764ea" stroke-width="0.72"/>
<polygon points="433.44,177.29 435,174.48 431.88,174.48" fill="none" stroke="#a764ea" stroke-width="0.72"/>
<polygon points="435.73,177.63 437.29,174.81 434.17,174.81" fill="none" stroke="#a764ea" stroke-width="0.72"/>
<polygon points="436.99,177.41 438.56,174.6 435.43,174.6" fill="none" stroke="#a764ea" stroke-width="0.72"/>
<polygon points="438.47,176.32 440.03,173.51 436.91,173.51" fill="none" stroke="#a764ea" stroke-width="0.72"/>
<polygon points="440.18,177.03 441.74,174.21 438.61,174.21" fill="none" stroke="#a764ea" stroke-width="0.72"/>
<polygon points="441.85,176.59 443.41,173.78 440.29,173.78" fill="none" stroke="#a764ea" stroke-width="0.72"/>
<polygon points="443.13,173.68 444.69,170.87 441.57,170.87" fill="none" stroke="#a764ea" stroke-width="0.72"/>
<polyline points="246,96.7 248.4,96.48 250.82,96.26 253.23,96.03 255.65,95.81 258.06,95.58 260.47,95.36 262.87,95.14 265.26,94.92 267.64,94.71 270,94.5 272.39,94.28 274.84,94.04 277.32,93.79 279.8,93.54 282.25,93.29 284.64,93.07 286.94,92.88 289.12,92.73 291.15,92.63 293,92.6 294.67,92.63 296.2,92.73 297.6,92.88 298.88,93.07 300.06,93.29 301.16,93.54 302.19,93.79 303.16,94.04 304.09,94.28 305,94.5 305.85,94.7 306.6,94.9 307.27,95.09 307.88,95.28 308.44,95.48 308.96,95.69 309.46,95.91 309.96,96.15 310.47,96.41 311,96.7 311.55,97 312.08,97.32 312.6,97.64 313.12,97.98 313.62,98.34 314.12,98.72 314.61,99.12 315.08,99.55 315.55,100.01 316,100.5 316.44,101.03 316.86,101.61 317.27,102.23 317.67,102.87 318.06,103.54 318.45,104.22 318.83,104.9 319.22,105.58 319.6,106.25 320,106.9" fill="none" stroke="#ee5858" stroke-width="1.05" stroke-linejoin="round"/>
<polyline points="370.4,60.2 371.27,61.43 372.14,62.67 373.01,63.94 373.88,65.2 374.74,66.46 375.61,67.7 376.48,68.92 377.35,70.1 378.23,71.23 379.1,72.3 379.97,73.33 380.82,74.33 381.67,75.3 382.51,76.23 383.36,77.13 384.22,77.99 385.1,78.81 386,79.59 386.93,80.32 387.9,81 388.89,81.62 389.91,82.19 390.94,82.71 392,83.18 393.07,83.61 394.17,84 395.29,84.38 396.44,84.73 397.61,85.07 398.8,85.4 400.01,85.72 401.22,86.02 402.46,86.29 403.71,86.54 404.99,86.78 406.3,86.98 407.65,87.17 409.05,87.34 410.5,87.48 412,87.6 413.59,87.7 415.28,87.77 417.04,87.81 418.85,87.84 420.69,87.84 422.53,87.82 424.36,87.79 426.14,87.74 427.86,87.67 429.5,87.6 431.05,87.5 432.55,87.38 434,87.24 435.42,87.08 436.81,86.9 438.18,86.72 439.54,86.53 440.91,86.35 442.29,86.17 443.7,86" fill="none" stroke="#ee5858" stroke-width="1.05" stroke-linejoin="round"/>
<polyline points="246,139.7 248.42,139.23 250.86,138.76 253.33,138.3 255.79,137.83 258.25,137.37 260.69,136.9 263.09,136.43 265.46,135.96 267.76,135.48 270,135 272.2,134.49 274.4,133.95 276.58,133.39 278.72,132.82 280.81,132.26 282.84,131.71 284.79,131.2 286.64,130.74 288.38,130.33 290,130 291.47,129.73 292.81,129.5 294.02,129.31 295.14,129.16 296.19,129.05 297.18,128.99 298.13,128.97 299.07,129 300.02,129.07 301,129.2 301.99,129.38 302.98,129.61 303.94,129.9 304.89,130.24 305.81,130.61 306.71,131.03 307.58,131.48 308.42,131.96 309.23,132.47 310,133 310.73,133.56 311.42,134.16 312.08,134.79 312.71,135.45 313.31,136.15 313.89,136.87 314.44,137.62 314.98,138.4 315.49,139.19 316,140 316.48,140.84 316.93,141.73 317.35,142.64 317.74,143.59 318.12,144.55 318.5,145.52 318.86,146.5 319.23,147.48 319.61,148.45 320,149.4" fill="none" stroke="#ee5858" stroke-width="1.05" stroke-linejoin="round"/>
<polyline points="370,85.8 370.79,87.23 371.57,88.66 372.34,90.1 373.1,91.54 373.88,92.98 374.66,94.41 375.45,95.83 376.27,97.24 377.12,98.63 378,100 378.91,101.38 379.84,102.77 380.79,104.18 381.76,105.57 382.75,106.95 383.76,108.29 384.79,109.58 385.84,110.8 386.91,111.95 388,113 389.11,113.95 390.22,114.82 391.36,115.62 392.51,116.35 393.69,117.03 394.89,117.67 396.12,118.27 397.38,118.86 398.67,119.43 400,120 401.32,120.58 402.58,121.15 403.84,121.71 405.11,122.24 406.44,122.75 407.85,123.22 409.38,123.63 411.06,123.99 412.92,124.28 415,124.5 417.33,124.62 419.9,124.65 422.67,124.6 425.59,124.5 428.62,124.34 431.73,124.16 434.86,123.97 437.98,123.79 441.04,123.62 444,123.5" fill="none" stroke="#ee5858" stroke-width="1.05" stroke-linejoin="round"/>
<polyline points="246,155.8 248.91,155.52 251.83,155.24 254.76,154.97 257.7,154.69 260.62,154.42 263.54,154.14 266.45,153.86 269.33,153.58 272.18,153.29 275,153 277.87,152.68 280.83,152.32 283.85,151.93 286.86,151.53 289.81,151.14 292.66,150.78 295.36,150.46 297.85,150.19 300.08,150 302,149.9 303.58,149.88 304.86,149.92 305.89,150.02 306.71,150.18 307.38,150.38 307.93,150.63 308.42,150.92 308.9,151.25 309.41,151.61 310,152 310.63,152.44 311.22,152.93 311.78,153.48 312.31,154.07 312.81,154.69 313.29,155.34 313.74,156 314.18,156.67 314.59,157.34 315,158 315.38,158.66 315.74,159.32 316.06,160 316.37,160.69 316.66,161.39 316.93,162.09 317.2,162.81 317.46,163.53 317.73,164.26 318,165 318.27,165.75 318.53,166.51 318.79,167.28 319.04,168.06 319.28,168.85 319.52,169.64 319.77,170.43 320.01,171.23 320.25,172.02 320.5,172.8" fill="none" stroke="#ee5858" stroke-width="1.05" stroke-linejoin="round"/>
<polyline points="370,102.3 370.79,103.78 371.57,105.28 372.34,106.78 373.1,108.29 373.88,109.79 374.66,111.28 375.45,112.75 376.27,114.2 377.12,115.62 378,117 378.91,118.36 379.84,119.7 380.79,121.04 381.76,122.35 382.75,123.64 383.76,124.89 384.79,126.11 385.84,127.29 386.91,128.42 388,129.5 389.08,130.52 390.14,131.47 391.2,132.38 392.27,133.24 393.38,134.07 394.53,134.87 395.75,135.66 397.06,136.43 398.47,137.21 400,138 401.66,138.82 403.42,139.68 405.29,140.55 407.23,141.41 409.25,142.26 411.33,143.05 413.45,143.79 415.62,144.44 417.8,144.98 420,145.4 422.24,145.68 424.54,145.82 426.91,145.85 429.31,145.8 431.75,145.69 434.21,145.53 436.67,145.37 439.14,145.2 441.58,145.08 444,145" fill="none" stroke="#ee5858" stroke-width="1.05" stroke-linejoin="round"/>
<polyline points="246,195.1 248.91,194.64 251.83,194.17 254.76,193.7 257.7,193.23 260.62,192.76 263.54,192.3 266.45,191.84 269.33,191.38 272.18,190.94 275,190.5 277.87,190.05 280.83,189.57 283.85,189.08 286.86,188.59 289.81,188.12 292.66,187.68 295.36,187.28 297.85,186.94 300.08,186.67 302,186.5 303.58,186.41 304.85,186.39 305.86,186.44 306.66,186.54 307.31,186.69 307.86,186.88 308.35,187.12 308.83,187.39 309.37,187.68 310,188 310.69,188.36 311.36,188.77 312.01,189.23 312.64,189.73 313.25,190.26 313.84,190.81 314.41,191.37 314.96,191.92 315.49,192.47 316,193 316.48,193.52 316.93,194.04 317.35,194.57 317.74,195.1 318.12,195.63 318.5,196.17 318.86,196.7 319.23,197.24 319.61,197.77 320,198.3" fill="none" stroke="#ee5858" stroke-width="1.05" stroke-linejoin="round"/>
<polyline points="370,135.4 371,137.39 372,139.41 373,141.46 374,143.51 375,145.55 376,147.56 377,149.53 378,151.44 379,153.27 380,155 380.95,156.65 381.82,158.25 382.65,159.78 383.47,161.27 384.31,162.69 385.21,164.06 386.19,165.38 387.3,166.64 388.55,167.85 390,169 391.6,170.13 393.3,171.24 395.11,172.33 397.03,173.36 399.06,174.33 401.21,175.21 403.47,175.99 405.86,176.64 408.36,177.15 411,177.5 413.81,177.65 416.83,177.6 420.02,177.38 423.34,177.03 426.75,176.59 430.22,176.09 433.72,175.56 437.21,175.05 440.65,174.58 444,174.2" fill="none" stroke="#ee5858" stroke-width="1.05" stroke-linejoin="round"/>
<text x="251.3" y="20.7" font-size="10"><tspan font-style="italic">J</tspan><tspan font-style="italic" font-size="7" dy="2.6">a.c.</tspan><tspan dy="-2.6"> (×10</tspan><tspan font-size="7" dy="-3.6">10</tspan><tspan dy="3.6">Am</tspan><tspan font-size="7" dy="-3.6">-2</tspan><tspan dy="3.6">)</tspan></text>
<rect x="260.45" y="29.35" width="2.1" height="2.1" fill="none" stroke="#4a4a4a" stroke-width="0.6"/>
<text transform="translate(271.4,34.1) scale(0.9,1)" font-size="10">0.27</text>
<circle cx="261.5" cy="42" r="1.1" fill="none" stroke="#2d6fe6" stroke-width="0.6"/>
<text transform="translate(271.4,45.7) scale(0.9,1)" font-size="10">0.34</text>
<polygon points="261.5,52.29 262.81,54.65 260.19,54.65" fill="none" stroke="#2f9e4a" stroke-width="0.6"/>
<text transform="translate(271.4,57.3) scale(0.9,1)" font-size="10">0.39</text>
<polygon points="261.5,67.01 262.81,64.65 260.19,64.65" fill="none" stroke="#a764ea" stroke-width="0.6"/>
<text transform="translate(271.4,69.4) scale(0.9,1)" font-size="10">0.47</text>
<line x1="251.8" y1="77.2" x2="271.3" y2="77.2" stroke="#ee5858" stroke-width="1.2" />
<text transform="translate(273.8,80.9) scale(0.88,1)" font-size="10">Fit</text>
<g transform="translate(208.4,117.8) rotate(-90)">
<text x="0" y="0" font-size="11" font-style="italic">R</text>
<text x="8" y="-4.2" font-size="6.8" font-style="italic" textLength="8.4" lengthAdjust="spacingAndGlyphs">2ω</text>
<text x="7.8" y="3" font-size="7" font-style="italic">xy</text>
<text x="20.4" y="0" font-size="11.5" textLength="27.8" lengthAdjust="spacingAndGlyphs">(mΩ)</text>
</g>
<text x="328.5" y="237.4" font-size="10.5"><tspan font-style="italic">μ</tspan><tspan font-style="italic" font-size="7.98" dy="2.52">0</tspan><tspan font-style="italic" dy="-2.52">H</tspan><tspan font-style="italic" font-size="7.77" dy="2.52">y</tspan><tspan dy="-2.52"> (T)</tspan></text>
<rect x="230.5" y="249.5" width="230.5" height="203" fill="none" stroke="#747474" stroke-width="1"/>
<text transform="translate(227.6,311) scale(1,1.16)" font-size="10.5" text-anchor="end" >−4</text>
<line x1="230.5" y1="306.8" x2="232.1" y2="306.8" stroke="#555" stroke-width="1" />
<text transform="translate(227.6,387.2) scale(1,1.16)" font-size="10.5" text-anchor="end" >−6</text>
<line x1="230.5" y1="383" x2="232.1" y2="383" stroke="#555" stroke-width="1" />
<line x1="230.5" y1="268.7" x2="231.7" y2="268.7" stroke="#555" stroke-width="1" />
<line x1="230.5" y1="344.9" x2="231.7" y2="344.9" stroke="#555" stroke-width="1" />
<line x1="230.5" y1="421.1" x2="231.7" y2="421.1" stroke="#555" stroke-width="1" />
<text transform="translate(279.4,465.4) scale(1,1.16)" font-size="10.5" text-anchor="middle" >−4</text>
<line x1="279.4" y1="452.5" x2="279.4" y2="450.9" stroke="#555" stroke-width="1" />
<text transform="translate(345.2,465.4) scale(1,1.16)" font-size="10.5" text-anchor="middle" >0</text>
<line x1="345.2" y1="452.5" x2="345.2" y2="450.9" stroke="#555" stroke-width="1" />
<text transform="translate(411.2,465.4) scale(1,1.16)" font-size="10.5" text-anchor="middle" >4</text>
<line x1="411.2" y1="452.5" x2="411.2" y2="450.9" stroke="#555" stroke-width="1" />
<line x1="246.5" y1="452.5" x2="246.5" y2="451.3" stroke="#555" stroke-width="1" />
<line x1="312.3" y1="452.5" x2="312.3" y2="451.3" stroke="#555" stroke-width="1" />
<line x1="378.2" y1="452.5" x2="378.2" y2="451.3" stroke="#555" stroke-width="1" />
<line x1="444.2" y1="452.5" x2="444.2" y2="451.3" stroke="#555" stroke-width="1" />
<rect x="245.02" y="328.59" width="2.5" height="2.5" fill="none" stroke="#4a4a4a" stroke-width="0.72"/>
<rect x="246.05" y="331.44" width="2.5" height="2.5" fill="none" stroke="#4a4a4a" stroke-width="0.72"/>
<rect x="247.62" y="333.12" width="2.5" height="2.5" fill="none" stroke="#4a4a4a" stroke-width="0.72"/>
<rect x="248.72" y="332.3" width="2.5" height="2.5" fill="none" stroke="#4a4a4a" stroke-width="0.72"/>
<rect x="250.08" y="331.56" width="2.5" height="2.5" fill="none" stroke="#4a4a4a" stroke-width="0.72"/>
<rect x="251.14" y="331.18" width="2.5" height="2.5" fill="none" stroke="#4a4a4a" stroke-width="0.72"/>
<rect x="253.14" y="332.96" width="2.5" height="2.5" fill="none" stroke="#4a4a4a" stroke-width="0.72"/>
<rect x="254.66" y="332.58" width="2.5" height="2.5" fill="none" stroke="#4a4a4a" stroke-width="0.72"/>
<rect x="256.12" y="332.84" width="2.5" height="2.5" fill="none" stroke="#4a4a4a" stroke-width="0.72"/>
<rect x="257.39" y="332.87" width="2.5" height="2.5" fill="none" stroke="#4a4a4a" stroke-width="0.72"/>
<rect x="258.83" y="333.77" width="2.5" height="2.5" fill="none" stroke="#4a4a4a" stroke-width="0.72"/>
<rect x="259.99" y="330.2" width="2.5" height="2.5" fill="none" stroke="#4a4a4a" stroke-width="0.72"/>
<rect x="261.73" y="328.8" width="2.5" height="2.5" fill="none" stroke="#4a4a4a" stroke-width="0.72"/>
<rect x="263.58" y="332.22" width="2.5" height="2.5" fill="none" stroke="#4a4a4a" stroke-width="0.72"/>
<rect x="264.79" y="331" width="2.5" height="2.5" fill="none" stroke="#4a4a4a" stroke-width="0.72"/>
<rect x="266.09" y="329.47" width="2.5" height="2.5" fill="none" stroke="#4a4a4a" stroke-width="0.72"/>
<rect x="267.66" y="330.39" width="2.5" height="2.5" fill="none" stroke="#4a4a4a" stroke-width="0.72"/>
<rect x="268.53" y="331.14" width="2.5" height="2.5" fill="none" stroke="#4a4a4a" stroke-width="0.72"/>
<rect x="270.3" y="334.32" width="2.5" height="2.5" fill="none" stroke="#4a4a4a" stroke-width="0.72"/>
<rect x="271.39" y="332.66" width="2.5" height="2.5" fill="none" stroke="#4a4a4a" stroke-width="0.72"/>
<rect x="272.92" y="326.47" width="2.5" height="2.5" fill="none" stroke="#4a4a4a" stroke-width="0.72"/>
<rect x="274.02" y="332.76" width="2.5" height="2.5" fill="none" stroke="#4a4a4a" stroke-width="0.72"/>
<rect x="275.46" y="330.71" width="2.5" height="2.5" fill="none" stroke="#4a4a4a" stroke-width="0.72"/>
<rect x="276.99" y="330" width="2.5" height="2.5" fill="none" stroke="#4a4a4a" stroke-width="0.72"/>
<rect x="278.3" y="330.26" width="2.5" height="2.5" fill="none" stroke="#4a4a4a" stroke-width="0.72"/>
<rect x="278.96" y="331.16" width="2.5" height="2.5" fill="none" stroke="#4a4a4a" stroke-width="0.72"/>
<rect x="280.6" y="330.92" width="2.5" height="2.5" fill="none" stroke="#4a4a4a" stroke-width="0.72"/>
<rect x="282.19" y="328.33" width="2.5" height="2.5" fill="none" stroke="#4a4a4a" stroke-width="0.72"/>
<rect x="283.27" y="329.47" width="2.5" height="2.5" fill="none" stroke="#4a4a4a" stroke-width="0.72"/>
<rect x="284.93" y="333.43" width="2.5" height="2.5" fill="none" stroke="#4a4a4a" stroke-width="0.72"/>
<rect x="286.65" y="330.17" width="2.5" height="2.5" fill="none" stroke="#4a4a4a" stroke-width="0.72"/>
<rect x="287.48" y="332.04" width="2.5" height="2.5" fill="none" stroke="#4a4a4a" stroke-width="0.72"/>
<rect x="288.49" y="333.47" width="2.5" height="2.5" fill="none" stroke="#4a4a4a" stroke-width="0.72"/>
<rect x="290" y="334.37" width="2.5" height="2.5" fill="none" stroke="#4a4a4a" stroke-width="0.72"/>
<rect x="291.4" y="330.87" width="2.5" height="2.5" fill="none" stroke="#4a4a4a" stroke-width="0.72"/>
<rect x="292.47" y="333.88" width="2.5" height="2.5" fill="none" stroke="#4a4a4a" stroke-width="0.72"/>
<rect x="294.14" y="333.19" width="2.5" height="2.5" fill="none" stroke="#4a4a4a" stroke-width="0.72"/>
<rect x="295.22" y="333.96" width="2.5" height="2.5" fill="none" stroke="#4a4a4a" stroke-width="0.72"/>
<rect x="296.54" y="334.98" width="2.5" height="2.5" fill="none" stroke="#4a4a4a" stroke-width="0.72"/>
<rect x="298.71" y="333.38" width="2.5" height="2.5" fill="none" stroke="#4a4a4a" stroke-width="0.72"/>
<rect x="299.87" y="334.84" width="2.5" height="2.5" fill="none" stroke="#4a4a4a" stroke-width="0.72"/>
<rect x="301.42" y="334.79" width="2.5" height="2.5" fill="none" stroke="#4a4a4a" stroke-width="0.72"/>
<rect x="301.07" y="339.21" width="2.5" height="2.5" fill="none" stroke="#4a4a4a" stroke-width="0.72"/>
<rect x="302.25" y="339.13" width="2.5" height="2.5" fill="none" stroke="#4a4a4a" stroke-width="0.72"/>
<rect x="305.31" y="336.19" width="2.5" height="2.5" fill="none" stroke="#4a4a4a" stroke-width="0.72"/>
<rect x="305.69" y="338.96" width="2.5" height="2.5" fill="none" stroke="#4a4a4a" stroke-width="0.72"/>
<rect x="307.07" y="338.98" width="2.5" height="2.5" fill="none" stroke="#4a4a4a" stroke-width="0.72"/>
<rect x="308.42" y="339.72" width="2.5" height="2.5" fill="none" stroke="#4a4a4a" stroke-width="0.72"/>
<rect x="309.93" y="340.56" width="2.5" height="2.5" fill="none" stroke="#4a4a4a" stroke-width="0.72"/>
<rect x="310.66" y="342.2" width="2.5" height="2.5" fill="none" stroke="#4a4a4a" stroke-width="0.72"/>
<rect x="311.45" y="343.41" width="2.5" height="2.5" fill="none" stroke="#4a4a4a" stroke-width="0.72"/>
<rect x="314.9" y="342.45" width="2.5" height="2.5" fill="none" stroke="#4a4a4a" stroke-width="0.72"/>
<rect x="314.65" y="344.43" width="2.5" height="2.5" fill="none" stroke="#4a4a4a" stroke-width="0.72"/>
<rect x="314.76" y="345.98" width="2.5" height="2.5" fill="none" stroke="#4a4a4a" stroke-width="0.72"/>
<rect x="314.85" y="347.89" width="2.5" height="2.5" fill="none" stroke="#4a4a4a" stroke-width="0.72"/>
<rect x="316.68" y="348.31" width="2.5" height="2.5" fill="none" stroke="#4a4a4a" stroke-width="0.72"/>
<rect x="315.65" y="350.41" width="2.5" height="2.5" fill="none" stroke="#4a4a4a" stroke-width="0.72"/>
<rect x="314.05" y="352.65" width="2.5" height="2.5" fill="none" stroke="#4a4a4a" stroke-width="0.72"/>
<rect x="317.11" y="352.85" width="2.5" height="2.5" fill="none" stroke="#4a4a4a" stroke-width="0.72"/>
<rect x="318.96" y="353.61" width="2.5" height="2.5" fill="none" stroke="#4a4a4a" stroke-width="0.72"/>
<rect x="316.93" y="356.08" width="2.5" height="2.5" fill="none" stroke="#4a4a4a" stroke-width="0.72"/>
<rect x="317.97" y="357.08" width="2.5" height="2.5" fill="none" stroke="#4a4a4a" stroke-width="0.72"/>
<rect x="368.22" y="298.39" width="2.5" height="2.5" fill="none" stroke="#4a4a4a" stroke-width="0.72"/>
<rect x="369.31" y="298.93" width="2.5" height="2.5" fill="none" stroke="#4a4a4a" stroke-width="0.72"/>
<rect x="370.87" y="300.39" width="2.5" height="2.5" fill="none" stroke="#4a4a4a" stroke-width="0.72"/>
<rect x="372.34" y="301.19" width="2.5" height="2.5" fill="none" stroke="#4a4a4a" stroke-width="0.72"/>
<rect x="372.22" y="303.51" width="2.5" height="2.5" fill="none" stroke="#4a4a4a" stroke-width="0.72"/>
<rect x="375.31" y="302.82" width="2.5" height="2.5" fill="none" stroke="#4a4a4a" stroke-width="0.72"/>
<rect x="373.87" y="306.65" width="2.5" height="2.5" fill="none" stroke="#4a4a4a" stroke-width="0.72"/>
<rect x="376.55" y="306.35" width="2.5" height="2.5" fill="none" stroke="#4a4a4a" stroke-width="0.72"/>
<rect x="378.33" y="307.51" width="2.5" height="2.5" fill="none" stroke="#4a4a4a" stroke-width="0.72"/>
<rect x="377.16" y="310.96" width="2.5" height="2.5" fill="none" stroke="#4a4a4a" stroke-width="0.72"/>
<rect x="379.93" y="309.37" width="2.5" height="2.5" fill="none" stroke="#4a4a4a" stroke-width="0.72"/>
<rect x="381.87" y="310.1" width="2.5" height="2.5" fill="none" stroke="#4a4a4a" stroke-width="0.72"/>
<rect x="383.9" y="308.76" width="2.5" height="2.5" fill="none" stroke="#4a4a4a" stroke-width="0.72"/>
<rect x="383.46" y="313.41" width="2.5" height="2.5" fill="none" stroke="#4a4a4a" stroke-width="0.72"/>
<rect x="385.7" y="312.11" width="2.5" height="2.5" fill="none" stroke="#4a4a4a" stroke-width="0.72"/>
<rect x="386.8" y="314.25" width="2.5" height="2.5" fill="none" stroke="#4a4a4a" stroke-width="0.72"/>
<rect x="387.47" y="315.99" width="2.5" height="2.5" fill="none" stroke="#4a4a4a" stroke-width="0.72"/>
<rect x="390.53" y="314.55" width="2.5" height="2.5" fill="none" stroke="#4a4a4a" stroke-width="0.72"/>
<rect x="391.47" y="315" width="2.5" height="2.5" fill="none" stroke="#4a4a4a" stroke-width="0.72"/>
<rect x="393.25" y="316.5" width="2.5" height="2.5" fill="none" stroke="#4a4a4a" stroke-width="0.72"/>
<rect x="395.45" y="314.8" width="2.5" height="2.5" fill="none" stroke="#4a4a4a" stroke-width="0.72"/>
<rect x="396.74" y="317.1" width="2.5" height="2.5" fill="none" stroke="#4a4a4a" stroke-width="0.72"/>
<rect x="398.15" y="316.66" width="2.5" height="2.5" fill="none" stroke="#4a4a4a" stroke-width="0.72"/>
<rect x="399.48" y="316.65" width="2.5" height="2.5" fill="none" stroke="#4a4a4a" stroke-width="0.72"/>
<rect x="400.68" y="319.09" width="2.5" height="2.5" fill="none" stroke="#4a4a4a" stroke-width="0.72"/>
<rect x="401.82" y="320.2" width="2.5" height="2.5" fill="none" stroke="#4a4a4a" stroke-width="0.72"/>
<rect x="403.62" y="319.22" width="2.5" height="2.5" fill="none" stroke="#4a4a4a" stroke-width="0.72"/>
<rect x="405.28" y="319.11" width="2.5" height="2.5" fill="none" stroke="#4a4a4a" stroke-width="0.72"/>
<rect x="407.4" y="320.3" width="2.5" height="2.5" fill="none" stroke="#4a4a4a" stroke-width="0.72"/>
<rect x="408.84" y="320.28" width="2.5" height="2.5" fill="none" stroke="#4a4a4a" stroke-width="0.72"/>
<rect x="410.39" y="320.3" width="2.5" height="2.5" fill="none" stroke="#4a4a4a" stroke-width="0.72"/>
<rect x="411.86" y="321.73" width="2.5" height="2.5" fill="none" stroke="#4a4a4a" stroke-width="0.72"/>
<rect x="413.24" y="322.64" width="2.5" height="2.5" fill="none" stroke="#4a4a4a" stroke-width="0.72"/>
<rect x="415.11" y="322.93" width="2.5" height="2.5" fill="none" stroke="#4a4a4a" stroke-width="0.72"/>
<rect x="416.73" y="321.16" width="2.5" height="2.5" fill="none" stroke="#4a4a4a" stroke-width="0.72"/>
<rect x="418.76" y="321.18" width="2.5" height="2.5" fill="none" stroke="#4a4a4a" stroke-width="0.72"/>
<rect x="420.04" y="321.35" width="2.5" height="2.5" fill="none" stroke="#4a4a4a" stroke-width="0.72"/>
<rect x="421.18" y="323.27" width="2.5" height="2.5" fill="none" stroke="#4a4a4a" stroke-width="0.72"/>
<rect x="423.15" y="323.02" width="2.5" height="2.5" fill="none" stroke="#4a4a4a" stroke-width="0.72"/>
<rect x="424.98" y="321.83" width="2.5" height="2.5" fill="none" stroke="#4a4a4a" stroke-width="0.72"/>
<rect x="426.3" y="322.24" width="2.5" height="2.5" fill="none" stroke="#4a4a4a" stroke-width="0.72"/>
<rect x="427.55" y="323.01" width="2.5" height="2.5" fill="none" stroke="#4a4a4a" stroke-width="0.72"/>
<rect x="429.11" y="323.35" width="2.5" height="2.5" fill="none" stroke="#4a4a4a" stroke-width="0.72"/>
<rect x="431.19" y="321.99" width="2.5" height="2.5" fill="none" stroke="#4a4a4a" stroke-width="0.72"/>
<rect x="432.64" y="322.71" width="2.5" height="2.5" fill="none" stroke="#4a4a4a" stroke-width="0.72"/>
<rect x="434.28" y="323.84" width="2.5" height="2.5" fill="none" stroke="#4a4a4a" stroke-width="0.72"/>
<rect x="435.94" y="324.86" width="2.5" height="2.5" fill="none" stroke="#4a4a4a" stroke-width="0.72"/>
<rect x="438.29" y="319.5" width="2.5" height="2.5" fill="none" stroke="#4a4a4a" stroke-width="0.72"/>
<rect x="439.69" y="320.88" width="2.5" height="2.5" fill="none" stroke="#4a4a4a" stroke-width="0.72"/>
<rect x="440.82" y="324" width="2.5" height="2.5" fill="none" stroke="#4a4a4a" stroke-width="0.72"/>
<rect x="442.53" y="323.79" width="2.5" height="2.5" fill="none" stroke="#4a4a4a" stroke-width="0.72"/>
<circle cx="246.16" cy="364.98" r="1.26" fill="none" stroke="#2d6fe6" stroke-width="0.72"/>
<circle cx="247.34" cy="366.42" r="1.26" fill="none" stroke="#2d6fe6" stroke-width="0.72"/>
<circle cx="249.03" cy="365.99" r="1.26" fill="none" stroke="#2d6fe6" stroke-width="0.72"/>
<circle cx="250.42" cy="365.91" r="1.26" fill="none" stroke="#2d6fe6" stroke-width="0.72"/>
<circle cx="251.84" cy="364.52" r="1.26" fill="none" stroke="#2d6fe6" stroke-width="0.72"/>
<circle cx="252.96" cy="364.21" r="1.26" fill="none" stroke="#2d6fe6" stroke-width="0.72"/>
<circle cx="254.33" cy="365.23" r="1.26" fill="none" stroke="#2d6fe6" stroke-width="0.72"/>
<circle cx="256.51" cy="367.31" r="1.26" fill="none" stroke="#2d6fe6" stroke-width="0.72"/>
<circle cx="257.19" cy="363.66" r="1.26" fill="none" stroke="#2d6fe6" stroke-width="0.72"/>
<circle cx="259.25" cy="368.47" r="1.26" fill="none" stroke="#2d6fe6" stroke-width="0.72"/>
<circle cx="260.63" cy="365.28" r="1.26" fill="none" stroke="#2d6fe6" stroke-width="0.72"/>
<circle cx="261.79" cy="364.91" r="1.26" fill="none" stroke="#2d6fe6" stroke-width="0.72"/>
<circle cx="262.84" cy="364.39" r="1.26" fill="none" stroke="#2d6fe6" stroke-width="0.72"/>
<circle cx="264.43" cy="366.08" r="1.26" fill="none" stroke="#2d6fe6" stroke-width="0.72"/>
<circle cx="266.06" cy="365.35" r="1.26" fill="none" stroke="#2d6fe6" stroke-width="0.72"/>
<circle cx="267.3" cy="365.51" r="1.26" fill="none" stroke="#2d6fe6" stroke-width="0.72"/>
<circle cx="268.58" cy="366.39" r="1.26" fill="none" stroke="#2d6fe6" stroke-width="0.72"/>
<circle cx="270.04" cy="366.62" r="1.26" fill="none" stroke="#2d6fe6" stroke-width="0.72"/>
<circle cx="271.06" cy="364.85" r="1.26" fill="none" stroke="#2d6fe6" stroke-width="0.72"/>
<circle cx="272.77" cy="364.66" r="1.26" fill="none" stroke="#2d6fe6" stroke-width="0.72"/>
<circle cx="274.42" cy="363.88" r="1.26" fill="none" stroke="#2d6fe6" stroke-width="0.72"/>
<circle cx="275.15" cy="362.95" r="1.26" fill="none" stroke="#2d6fe6" stroke-width="0.72"/>
<circle cx="276.55" cy="363.41" r="1.26" fill="none" stroke="#2d6fe6" stroke-width="0.72"/>
<circle cx="277.82" cy="366.61" r="1.26" fill="none" stroke="#2d6fe6" stroke-width="0.72"/>
<circle cx="279.73" cy="364.77" r="1.26" fill="none" stroke="#2d6fe6" stroke-width="0.72"/>
<circle cx="280.71" cy="363.3" r="1.26" fill="none" stroke="#2d6fe6" stroke-width="0.72"/>
<circle cx="281.77" cy="363.3" r="1.26" fill="none" stroke="#2d6fe6" stroke-width="0.72"/>
<circle cx="283.57" cy="363.2" r="1.26" fill="none" stroke="#2d6fe6" stroke-width="0.72"/>
<circle cx="284.61" cy="363.01" r="1.26" fill="none" stroke="#2d6fe6" stroke-width="0.72"/>
<circle cx="286.39" cy="363.1" r="1.26" fill="none" stroke="#2d6fe6" stroke-width="0.72"/>
<circle cx="287.49" cy="362.28" r="1.26" fill="none" stroke="#2d6fe6" stroke-width="0.72"/>
<circle cx="289.22" cy="365.88" r="1.26" fill="none" stroke="#2d6fe6" stroke-width="0.72"/>
<circle cx="290.49" cy="364.93" r="1.26" fill="none" stroke="#2d6fe6" stroke-width="0.72"/>
<circle cx="292.04" cy="365.64" r="1.26" fill="none" stroke="#2d6fe6" stroke-width="0.72"/>
<circle cx="293.87" cy="364.01" r="1.26" fill="none" stroke="#2d6fe6" stroke-width="0.72"/>
<circle cx="295" cy="365.33" r="1.26" fill="none" stroke="#2d6fe6" stroke-width="0.72"/>
<circle cx="296.75" cy="366.3" r="1.26" fill="none" stroke="#2d6fe6" stroke-width="0.72"/>
<circle cx="297.37" cy="367.88" r="1.26" fill="none" stroke="#2d6fe6" stroke-width="0.72"/>
<circle cx="299.1" cy="365.77" r="1.26" fill="none" stroke="#2d6fe6" stroke-width="0.72"/>
<circle cx="300.18" cy="367.29" r="1.26" fill="none" stroke="#2d6fe6" stroke-width="0.72"/>
<circle cx="302.21" cy="367.59" r="1.26" fill="none" stroke="#2d6fe6" stroke-width="0.72"/>
<circle cx="303.3" cy="369.7" r="1.26" fill="none" stroke="#2d6fe6" stroke-width="0.72"/>
<circle cx="304.15" cy="370.5" r="1.26" fill="none" stroke="#2d6fe6" stroke-width="0.72"/>
<circle cx="306.18" cy="369.73" r="1.26" fill="none" stroke="#2d6fe6" stroke-width="0.72"/>
<circle cx="308.75" cy="368.59" r="1.26" fill="none" stroke="#2d6fe6" stroke-width="0.72"/>
<circle cx="308.82" cy="371.12" r="1.26" fill="none" stroke="#2d6fe6" stroke-width="0.72"/>
<circle cx="310.91" cy="370.89" r="1.26" fill="none" stroke="#2d6fe6" stroke-width="0.72"/>
<circle cx="310.99" cy="373.31" r="1.26" fill="none" stroke="#2d6fe6" stroke-width="0.72"/>
<circle cx="311.97" cy="374.61" r="1.26" fill="none" stroke="#2d6fe6" stroke-width="0.72"/>
<circle cx="311.81" cy="376.23" r="1.26" fill="none" stroke="#2d6fe6" stroke-width="0.72"/>
<circle cx="313.77" cy="376.08" r="1.26" fill="none" stroke="#2d6fe6" stroke-width="0.72"/>
<circle cx="313.65" cy="377.84" r="1.26" fill="none" stroke="#2d6fe6" stroke-width="0.72"/>
<circle cx="315.47" cy="378.15" r="1.26" fill="none" stroke="#2d6fe6" stroke-width="0.72"/>
<circle cx="314.78" cy="380.42" r="1.26" fill="none" stroke="#2d6fe6" stroke-width="0.72"/>
<circle cx="315.46" cy="381.44" r="1.26" fill="none" stroke="#2d6fe6" stroke-width="0.72"/>
<circle cx="315.33" cy="382.94" r="1.26" fill="none" stroke="#2d6fe6" stroke-width="0.72"/>
<circle cx="316.56" cy="383.71" r="1.26" fill="none" stroke="#2d6fe6" stroke-width="0.72"/>
<circle cx="316.61" cy="385.14" r="1.26" fill="none" stroke="#2d6fe6" stroke-width="0.72"/>
<circle cx="317.76" cy="385.79" r="1.26" fill="none" stroke="#2d6fe6" stroke-width="0.72"/>
<circle cx="318.55" cy="387.23" r="1.26" fill="none" stroke="#2d6fe6" stroke-width="0.72"/>
<circle cx="320.48" cy="387.88" r="1.26" fill="none" stroke="#2d6fe6" stroke-width="0.72"/>
<circle cx="319.16" cy="389.64" r="1.26" fill="none" stroke="#2d6fe6" stroke-width="0.72"/>
<circle cx="319.29" cy="391.46" r="1.26" fill="none" stroke="#2d6fe6" stroke-width="0.72"/>
<circle cx="369.79" cy="319.76" r="1.26" fill="none" stroke="#2d6fe6" stroke-width="0.72"/>
<circle cx="371.46" cy="320.14" r="1.26" fill="none" stroke="#2d6fe6" stroke-width="0.72"/>
<circle cx="371.63" cy="322.26" r="1.26" fill="none" stroke="#2d6fe6" stroke-width="0.72"/>
<circle cx="371.94" cy="323.91" r="1.26" fill="none" stroke="#2d6fe6" stroke-width="0.72"/>
<circle cx="374.08" cy="324.59" r="1.26" fill="none" stroke="#2d6fe6" stroke-width="0.72"/>
<circle cx="372.51" cy="327.54" r="1.26" fill="none" stroke="#2d6fe6" stroke-width="0.72"/>
<circle cx="373.03" cy="329.31" r="1.26" fill="none" stroke="#2d6fe6" stroke-width="0.72"/>
<circle cx="375.35" cy="329.87" r="1.26" fill="none" stroke="#2d6fe6" stroke-width="0.72"/>
<circle cx="377.77" cy="330.55" r="1.26" fill="none" stroke="#2d6fe6" stroke-width="0.72"/>
<circle cx="377.37" cy="332.96" r="1.26" fill="none" stroke="#2d6fe6" stroke-width="0.72"/>
<circle cx="376.99" cy="335.51" r="1.26" fill="none" stroke="#2d6fe6" stroke-width="0.72"/>
<circle cx="379.65" cy="334.96" r="1.26" fill="none" stroke="#2d6fe6" stroke-width="0.72"/>
<circle cx="378.75" cy="338.15" r="1.26" fill="none" stroke="#2d6fe6" stroke-width="0.72"/>
<circle cx="381.44" cy="337.59" r="1.26" fill="none" stroke="#2d6fe6" stroke-width="0.72"/>
<circle cx="381.85" cy="339.75" r="1.26" fill="none" stroke="#2d6fe6" stroke-width="0.72"/>
<circle cx="384.41" cy="338.64" r="1.26" fill="none" stroke="#2d6fe6" stroke-width="0.72"/>
<circle cx="384.33" cy="341.23" r="1.26" fill="none" stroke="#2d6fe6" stroke-width="0.72"/>
<circle cx="385.77" cy="341.59" r="1.26" fill="none" stroke="#2d6fe6" stroke-width="0.72"/>
<circle cx="386.8" cy="344.14" r="1.26" fill="none" stroke="#2d6fe6" stroke-width="0.72"/>
<circle cx="389.52" cy="342.67" r="1.26" fill="none" stroke="#2d6fe6" stroke-width="0.72"/>
<circle cx="389.69" cy="345.22" r="1.26" fill="none" stroke="#2d6fe6" stroke-width="0.72"/>
<circle cx="391.18" cy="346.38" r="1.26" fill="none" stroke="#2d6fe6" stroke-width="0.72"/>
<circle cx="393.19" cy="347.13" r="1.26" fill="none" stroke="#2d6fe6" stroke-width="0.72"/>
<circle cx="393.54" cy="349.51" r="1.26" fill="none" stroke="#2d6fe6" stroke-width="0.72"/>
<circle cx="395.38" cy="349.82" r="1.26" fill="none" stroke="#2d6fe6" stroke-width="0.72"/>
<circle cx="397.54" cy="348.99" r="1.26" fill="none" stroke="#2d6fe6" stroke-width="0.72"/>
<circle cx="398.31" cy="350.92" r="1.26" fill="none" stroke="#2d6fe6" stroke-width="0.72"/>
<circle cx="400" cy="351.06" r="1.26" fill="none" stroke="#2d6fe6" stroke-width="0.72"/>
<circle cx="402.17" cy="349.29" r="1.26" fill="none" stroke="#2d6fe6" stroke-width="0.72"/>
<circle cx="402.52" cy="354.2" r="1.26" fill="none" stroke="#2d6fe6" stroke-width="0.72"/>
<circle cx="404.83" cy="353.46" r="1.26" fill="none" stroke="#2d6fe6" stroke-width="0.72"/>
<circle cx="406.34" cy="351.75" r="1.26" fill="none" stroke="#2d6fe6" stroke-width="0.72"/>
<circle cx="407.92" cy="352.8" r="1.26" fill="none" stroke="#2d6fe6" stroke-width="0.72"/>
<circle cx="409.72" cy="355.21" r="1.26" fill="none" stroke="#2d6fe6" stroke-width="0.72"/>
<circle cx="411.95" cy="351.62" r="1.26" fill="none" stroke="#2d6fe6" stroke-width="0.72"/>
<circle cx="412.81" cy="354.64" r="1.26" fill="none" stroke="#2d6fe6" stroke-width="0.72"/>
<circle cx="414.26" cy="355.54" r="1.26" fill="none" stroke="#2d6fe6" stroke-width="0.72"/>
<circle cx="416.27" cy="354.99" r="1.26" fill="none" stroke="#2d6fe6" stroke-width="0.72"/>
<circle cx="417.61" cy="353.36" r="1.26" fill="none" stroke="#2d6fe6" stroke-width="0.72"/>
<circle cx="419.41" cy="355.4" r="1.26" fill="none" stroke="#2d6fe6" stroke-width="0.72"/>
<circle cx="420.59" cy="355.51" r="1.26" fill="none" stroke="#2d6fe6" stroke-width="0.72"/>
<circle cx="422.57" cy="355.71" r="1.26" fill="none" stroke="#2d6fe6" stroke-width="0.72"/>
<circle cx="424.28" cy="355.23" r="1.26" fill="none" stroke="#2d6fe6" stroke-width="0.72"/>
<circle cx="425.82" cy="354.39" r="1.26" fill="none" stroke="#2d6fe6" stroke-width="0.72"/>
<circle cx="427.31" cy="354.22" r="1.26" fill="none" stroke="#2d6fe6" stroke-width="0.72"/>
<circle cx="428.44" cy="355.98" r="1.26" fill="none" stroke="#2d6fe6" stroke-width="0.72"/>
<circle cx="430.23" cy="355.57" r="1.26" fill="none" stroke="#2d6fe6" stroke-width="0.72"/>
<circle cx="432.23" cy="355.73" r="1.26" fill="none" stroke="#2d6fe6" stroke-width="0.72"/>
<circle cx="433.41" cy="355.99" r="1.26" fill="none" stroke="#2d6fe6" stroke-width="0.72"/>
<circle cx="435.35" cy="356.64" r="1.26" fill="none" stroke="#2d6fe6" stroke-width="0.72"/>
<circle cx="437.05" cy="356.75" r="1.26" fill="none" stroke="#2d6fe6" stroke-width="0.72"/>
<circle cx="438.81" cy="355.71" r="1.26" fill="none" stroke="#2d6fe6" stroke-width="0.72"/>
<circle cx="440.1" cy="357.21" r="1.26" fill="none" stroke="#2d6fe6" stroke-width="0.72"/>
<circle cx="441.79" cy="355.32" r="1.26" fill="none" stroke="#2d6fe6" stroke-width="0.72"/>
<circle cx="443.29" cy="355.2" r="1.26" fill="none" stroke="#2d6fe6" stroke-width="0.72"/>
<polygon points="245.83,378.6 247.39,381.41 244.27,381.41" fill="none" stroke="#2f9e4a" stroke-width="0.72"/>
<polygon points="247.96,377.48 249.52,380.29 246.4,380.29" fill="none" stroke="#2f9e4a" stroke-width="0.72"/>
<polygon points="249.21,379.09 250.78,381.9 247.65,381.9" fill="none" stroke="#2f9e4a" stroke-width="0.72"/>
<polygon points="251,376.59 252.57,379.4 249.44,379.4" fill="none" stroke="#2f9e4a" stroke-width="0.72"/>
<polygon points="251.97,378.48 253.53,381.29 250.4,381.29" fill="none" stroke="#2f9e4a" stroke-width="0.72"/>
<polygon points="253.76,377.83 255.33,380.65 252.2,380.65" fill="none" stroke="#2f9e4a" stroke-width="0.72"/>
<polygon points="255.08,376.86 256.65,379.67 253.52,379.67" fill="none" stroke="#2f9e4a" stroke-width="0.72"/>
<polygon points="255.99,377.37 257.55,380.19 254.43,380.19" fill="none" stroke="#2f9e4a" stroke-width="0.72"/>
<polygon points="257.7,376.78 259.26,379.6 256.14,379.6" fill="none" stroke="#2f9e4a" stroke-width="0.72"/>
<polygon points="259.19,376.62 260.75,379.43 257.63,379.43" fill="none" stroke="#2f9e4a" stroke-width="0.72"/>
<polygon points="260.35,376.73 261.91,379.54 258.78,379.54" fill="none" stroke="#2f9e4a" stroke-width="0.72"/>
<polygon points="261.65,377.22 263.22,380.03 260.09,380.03" fill="none" stroke="#2f9e4a" stroke-width="0.72"/>
<polygon points="262.94,378.87 264.51,381.68 261.38,381.68" fill="none" stroke="#2f9e4a" stroke-width="0.72"/>
<polygon points="264.16,375.77 265.72,378.58 262.6,378.58" fill="none" stroke="#2f9e4a" stroke-width="0.72"/>
<polygon points="265.62,377.25 267.18,380.06 264.06,380.06" fill="none" stroke="#2f9e4a" stroke-width="0.72"/>
<polygon points="266.46,377.97 268.03,380.78 264.9,380.78" fill="none" stroke="#2f9e4a" stroke-width="0.72"/>
<polygon points="268.2,375.07 269.76,377.88 266.63,377.88" fill="none" stroke="#2f9e4a" stroke-width="0.72"/>
<polygon points="269.74,376.89 271.3,379.71 268.18,379.71" fill="none" stroke="#2f9e4a" stroke-width="0.72"/>
<polygon points="271.2,376.48 272.77,379.29 269.64,379.29" fill="none" stroke="#2f9e4a" stroke-width="0.72"/>
<polygon points="272,375.99 273.56,378.8 270.43,378.8" fill="none" stroke="#2f9e4a" stroke-width="0.72"/>
<polygon points="273.35,377.97 274.91,380.78 271.78,380.78" fill="none" stroke="#2f9e4a" stroke-width="0.72"/>
<polygon points="275.13,377.65 276.69,380.47 273.57,380.47" fill="none" stroke="#2f9e4a" stroke-width="0.72"/>
<polygon points="276.22,374.55 277.79,377.37 274.66,377.37" fill="none" stroke="#2f9e4a" stroke-width="0.72"/>
<polygon points="277.63,376.79 279.2,379.6 276.07,379.6" fill="none" stroke="#2f9e4a" stroke-width="0.72"/>
<polygon points="279.3,374.76 280.86,377.57 277.74,377.57" fill="none" stroke="#2f9e4a" stroke-width="0.72"/>
<polygon points="280.64,377.24 282.2,380.05 279.08,380.05" fill="none" stroke="#2f9e4a" stroke-width="0.72"/>
<polygon points="281.85,378.76 283.42,381.57 280.29,381.57" fill="none" stroke="#2f9e4a" stroke-width="0.72"/>
<polygon points="283.55,376.74 285.11,379.55 281.99,379.55" fill="none" stroke="#2f9e4a" stroke-width="0.72"/>
<polygon points="284.73,377.06 286.3,379.88 283.17,379.88" fill="none" stroke="#2f9e4a" stroke-width="0.72"/>
<polygon points="285.77,378.72 287.33,381.53 284.21,381.53" fill="none" stroke="#2f9e4a" stroke-width="0.72"/>
<polygon points="286.82,378.08 288.38,380.9 285.25,380.9" fill="none" stroke="#2f9e4a" stroke-width="0.72"/>
<polygon points="288.53,377.58 290.09,380.39 286.97,380.39" fill="none" stroke="#2f9e4a" stroke-width="0.72"/>
<polygon points="289.68,377.11 291.24,379.92 288.12,379.92" fill="none" stroke="#2f9e4a" stroke-width="0.72"/>
<polygon points="291.58,377.58 293.14,380.39 290.01,380.39" fill="none" stroke="#2f9e4a" stroke-width="0.72"/>
<polygon points="291.92,380.93 293.48,383.74 290.36,383.74" fill="none" stroke="#2f9e4a" stroke-width="0.72"/>
<polygon points="293.36,379.3 294.93,382.11 291.8,382.11" fill="none" stroke="#2f9e4a" stroke-width="0.72"/>
<polygon points="294.67,380.53 296.23,383.34 293.1,383.34" fill="none" stroke="#2f9e4a" stroke-width="0.72"/>
<polygon points="296.31,379.13 297.87,381.95 294.74,381.95" fill="none" stroke="#2f9e4a" stroke-width="0.72"/>
<polygon points="298.21,377.05 299.78,379.86 296.65,379.86" fill="none" stroke="#2f9e4a" stroke-width="0.72"/>
<polygon points="299.54,378.12 301.11,380.93 297.98,380.93" fill="none" stroke="#2f9e4a" stroke-width="0.72"/>
<polygon points="299.46,381.35 301.03,384.17 297.9,384.17" fill="none" stroke="#2f9e4a" stroke-width="0.72"/>
<polygon points="301.22,380.35 302.78,383.16 299.65,383.16" fill="none" stroke="#2f9e4a" stroke-width="0.72"/>
<polygon points="302.48,380.13 304.04,382.94 300.91,382.94" fill="none" stroke="#2f9e4a" stroke-width="0.72"/>
<polygon points="304.04,380.75 305.6,383.57 302.47,383.57" fill="none" stroke="#2f9e4a" stroke-width="0.72"/>
<polygon points="305.74,380.42 307.3,383.23 304.18,383.23" fill="none" stroke="#2f9e4a" stroke-width="0.72"/>
<polygon points="305.64,383.58 307.2,386.39 304.08,386.39" fill="none" stroke="#2f9e4a" stroke-width="0.72"/>
<polygon points="307.1,384.99 308.66,387.8 305.54,387.8" fill="none" stroke="#2f9e4a" stroke-width="0.72"/>
<polygon points="309.82,382.82 311.39,385.64 308.26,385.64" fill="none" stroke="#2f9e4a" stroke-width="0.72"/>
<polygon points="309.61,385.03 311.18,387.84 308.05,387.84" fill="none" stroke="#2f9e4a" stroke-width="0.72"/>
<polygon points="310.67,386.21 312.23,389.02 309.11,389.02" fill="none" stroke="#2f9e4a" stroke-width="0.72"/>
<polygon points="310.55,388.11 312.11,390.92 308.98,390.92" fill="none" stroke="#2f9e4a" stroke-width="0.72"/>
<polygon points="311.3,389.76 312.87,392.57 309.74,392.57" fill="none" stroke="#2f9e4a" stroke-width="0.72"/>
<polygon points="313.67,389.14 315.23,391.95 312.1,391.95" fill="none" stroke="#2f9e4a" stroke-width="0.72"/>
<polygon points="311.92,392.59 313.48,395.4 310.36,395.4" fill="none" stroke="#2f9e4a" stroke-width="0.72"/>
<polygon points="315.69,392.09 317.25,394.91 314.13,394.91" fill="none" stroke="#2f9e4a" stroke-width="0.72"/>
<polygon points="314.84,394.23 316.4,397.04 313.28,397.04" fill="none" stroke="#2f9e4a" stroke-width="0.72"/>
<polygon points="315.64,395.29 317.21,398.11 314.08,398.11" fill="none" stroke="#2f9e4a" stroke-width="0.72"/>
<polygon points="317.02,396.38 318.59,399.19 315.46,399.19" fill="none" stroke="#2f9e4a" stroke-width="0.72"/>
<polygon points="318.01,397.82 319.57,400.64 316.45,400.64" fill="none" stroke="#2f9e4a" stroke-width="0.72"/>
<polygon points="314.44,400.56 316,403.37 312.87,403.37" fill="none" stroke="#2f9e4a" stroke-width="0.72"/>
<polygon points="316.45,401.2 318.01,404.01 314.89,404.01" fill="none" stroke="#2f9e4a" stroke-width="0.72"/>
<polygon points="316.87,402.26 318.43,405.07 315.31,405.07" fill="none" stroke="#2f9e4a" stroke-width="0.72"/>
<polygon points="318.7,402.94 320.26,405.75 317.14,405.75" fill="none" stroke="#2f9e4a" stroke-width="0.72"/>
<polygon points="318,404.84 319.56,407.65 316.44,407.65" fill="none" stroke="#2f9e4a" stroke-width="0.72"/>
<polygon points="318.22,406.3 319.78,409.11 316.65,409.11" fill="none" stroke="#2f9e4a" stroke-width="0.72"/>
<polygon points="319.1,407.82 320.66,410.63 317.53,410.63" fill="none" stroke="#2f9e4a" stroke-width="0.72"/>
<polygon points="320.47,408.51 322.03,411.32 318.91,411.32" fill="none" stroke="#2f9e4a" stroke-width="0.72"/>
<polygon points="320.79,409.82 322.35,412.63 319.23,412.63" fill="none" stroke="#2f9e4a" stroke-width="0.72"/>
<polygon points="319.39,411.65 320.95,414.47 317.83,414.47" fill="none" stroke="#2f9e4a" stroke-width="0.72"/>
<polygon points="369.22,338.15 370.78,340.96 367.65,340.96" fill="none" stroke="#2f9e4a" stroke-width="0.72"/>
<polygon points="371.39,337.76 372.95,340.57 369.83,340.57" fill="none" stroke="#2f9e4a" stroke-width="0.72"/>
<polygon points="371.95,339.25 373.51,342.06 370.39,342.06" fill="none" stroke="#2f9e4a" stroke-width="0.72"/>
<polygon points="373.17,340.26 374.74,343.07 371.61,343.07" fill="none" stroke="#2f9e4a" stroke-width="0.72"/>
<polygon points="374.17,341.34 375.73,344.15 372.61,344.15" fill="none" stroke="#2f9e4a" stroke-width="0.72"/>
<polygon points="374.75,342.65 376.31,345.46 373.18,345.46" fill="none" stroke="#2f9e4a" stroke-width="0.72"/>
<polygon points="377.94,341.82 379.5,344.63 376.37,344.63" fill="none" stroke="#2f9e4a" stroke-width="0.72"/>
<polygon points="376.33,345.04 377.89,347.86 374.77,347.86" fill="none" stroke="#2f9e4a" stroke-width="0.72"/>
<polygon points="376.91,347.05 378.47,349.86 375.35,349.86" fill="none" stroke="#2f9e4a" stroke-width="0.72"/>
<polygon points="377.98,347.98 379.55,350.79 376.42,350.79" fill="none" stroke="#2f9e4a" stroke-width="0.72"/>
<polygon points="381.15,346.98 382.72,349.79 379.59,349.79" fill="none" stroke="#2f9e4a" stroke-width="0.72"/>
<polygon points="380.99,350.05 382.55,352.87 379.42,352.87" fill="none" stroke="#2f9e4a" stroke-width="0.72"/>
<polygon points="381.67,351.32 383.23,354.13 380.11,354.13" fill="none" stroke="#2f9e4a" stroke-width="0.72"/>
<polygon points="383.53,351.44 385.09,354.25 381.97,354.25" fill="none" stroke="#2f9e4a" stroke-width="0.72"/>
<polygon points="384.23,353.51 385.8,356.32 382.67,356.32" fill="none" stroke="#2f9e4a" stroke-width="0.72"/>
<polygon points="386.34,353.8 387.91,356.61 384.78,356.61" fill="none" stroke="#2f9e4a" stroke-width="0.72"/>
<polygon points="387.23,354.81 388.79,357.62 385.67,357.62" fill="none" stroke="#2f9e4a" stroke-width="0.72"/>
<polygon points="386.89,358.03 388.45,360.84 385.33,360.84" fill="none" stroke="#2f9e4a" stroke-width="0.72"/>
<polygon points="389.44,357.46 391,360.27 387.88,360.27" fill="none" stroke="#2f9e4a" stroke-width="0.72"/>
<polygon points="391.57,356.81 393.13,359.62 390.01,359.62" fill="none" stroke="#2f9e4a" stroke-width="0.72"/>
<polygon points="392.87,357.05 394.43,359.87 391.31,359.87" fill="none" stroke="#2f9e4a" stroke-width="0.72"/>
<polygon points="394.07,358.89 395.64,361.71 392.51,361.71" fill="none" stroke="#2f9e4a" stroke-width="0.72"/>
<polygon points="395.94,358.77 397.51,361.58 394.38,361.58" fill="none" stroke="#2f9e4a" stroke-width="0.72"/>
<polygon points="396.49,361.06 398.05,363.87 394.93,363.87" fill="none" stroke="#2f9e4a" stroke-width="0.72"/>
<polygon points="398.58,359.6 400.15,362.41 397.02,362.41" fill="none" stroke="#2f9e4a" stroke-width="0.72"/>
<polygon points="400.3,360.84 401.87,363.65 398.74,363.65" fill="none" stroke="#2f9e4a" stroke-width="0.72"/>
<polygon points="401.19,360.9 402.75,363.72 399.63,363.72" fill="none" stroke="#2f9e4a" stroke-width="0.72"/>
<polygon points="402.48,362.39 404.04,365.2 400.91,365.2" fill="none" stroke="#2f9e4a" stroke-width="0.72"/>
<polygon points="404.7,361.93 406.26,364.75 403.13,364.75" fill="none" stroke="#2f9e4a" stroke-width="0.72"/>
<polygon points="405.54,365.36 407.1,368.18 403.98,368.18" fill="none" stroke="#2f9e4a" stroke-width="0.72"/>
<polygon points="407.14,365.07 408.7,367.88 405.58,367.88" fill="none" stroke="#2f9e4a" stroke-width="0.72"/>
<polygon points="409.34,363.95 410.9,366.76 407.77,366.76" fill="none" stroke="#2f9e4a" stroke-width="0.72"/>
<polygon points="410.91,364.35 412.47,367.17 409.35,367.17" fill="none" stroke="#2f9e4a" stroke-width="0.72"/>
<polygon points="412.5,364.3 414.07,367.11 410.94,367.11" fill="none" stroke="#2f9e4a" stroke-width="0.72"/>
<polygon points="413.95,364.49 415.51,367.3 412.39,367.3" fill="none" stroke="#2f9e4a" stroke-width="0.72"/>
<polygon points="416.04,365.17 417.6,367.98 414.48,367.98" fill="none" stroke="#2f9e4a" stroke-width="0.72"/>
<polygon points="417.93,362.79 419.49,365.6 416.37,365.6" fill="none" stroke="#2f9e4a" stroke-width="0.72"/>
<polygon points="419.03,366.7 420.59,369.51 417.46,369.51" fill="none" stroke="#2f9e4a" stroke-width="0.72"/>
<polygon points="421.03,367.16 422.59,369.97 419.46,369.97" fill="none" stroke="#2f9e4a" stroke-width="0.72"/>
<polygon points="422.88,367.15 424.44,369.96 421.31,369.96" fill="none" stroke="#2f9e4a" stroke-width="0.72"/>
<polygon points="424.83,366.94 426.39,369.75 423.27,369.75" fill="none" stroke="#2f9e4a" stroke-width="0.72"/>
<polygon points="425.77,365.54 427.33,368.36 424.21,368.36" fill="none" stroke="#2f9e4a" stroke-width="0.72"/>
<polygon points="427.7,367.25 429.26,370.06 426.14,370.06" fill="none" stroke="#2f9e4a" stroke-width="0.72"/>
<polygon points="429.19,366.64 430.76,369.45 427.63,369.45" fill="none" stroke="#2f9e4a" stroke-width="0.72"/>
<polygon points="430.57,368.49 432.13,371.3 429.01,371.3" fill="none" stroke="#2f9e4a" stroke-width="0.72"/>
<polygon points="431.83,367.23 433.4,370.05 430.27,370.05" fill="none" stroke="#2f9e4a" stroke-width="0.72"/>
<polygon points="434.08,367.59 435.65,370.4 432.52,370.4" fill="none" stroke="#2f9e4a" stroke-width="0.72"/>
<polygon points="435.08,367.23 436.64,370.05 433.51,370.05" fill="none" stroke="#2f9e4a" stroke-width="0.72"/>
<polygon points="436.98,367.12 438.54,369.93 435.41,369.93" fill="none" stroke="#2f9e4a" stroke-width="0.72"/>
<polygon points="438.46,365.68 440.02,368.5 436.89,368.5" fill="none" stroke="#2f9e4a" stroke-width="0.72"/>
<polygon points="439.41,368.91 440.98,371.72 437.85,371.72" fill="none" stroke="#2f9e4a" stroke-width="0.72"/>
<polygon points="441,367.42 442.56,370.23 439.44,370.23" fill="none" stroke="#2f9e4a" stroke-width="0.72"/>
<polygon points="442.99,366.3 444.55,369.11 441.43,369.11" fill="none" stroke="#2f9e4a" stroke-width="0.72"/>
<polygon points="245.83,414.67 247.39,411.85 244.27,411.85" fill="none" stroke="#a764ea" stroke-width="0.72"/>
<polygon points="247.98,413.66 249.54,410.85 246.42,410.85" fill="none" stroke="#a764ea" stroke-width="0.72"/>
<polygon points="248.9,414.2 250.46,411.39 247.34,411.39" fill="none" stroke="#a764ea" stroke-width="0.72"/>
<polygon points="250.47,415.72 252.04,412.91 248.91,412.91" fill="none" stroke="#a764ea" stroke-width="0.72"/>
<polygon points="252.03,414.64 253.59,411.82 250.47,411.82" fill="none" stroke="#a764ea" stroke-width="0.72"/>
<polygon points="253.63,414.02 255.19,411.21 252.07,411.21" fill="none" stroke="#a764ea" stroke-width="0.72"/>
<polygon points="254.71,413.77 256.27,410.96 253.14,410.96" fill="none" stroke="#a764ea" stroke-width="0.72"/>
<polygon points="256.31,416.36 257.87,413.55 254.75,413.55" fill="none" stroke="#a764ea" stroke-width="0.72"/>
<polygon points="258.03,412.91 259.59,410.1 256.46,410.1" fill="none" stroke="#a764ea" stroke-width="0.72"/>
<polygon points="259.74,413.65 261.3,410.84 258.18,410.84" fill="none" stroke="#a764ea" stroke-width="0.72"/>
<polygon points="261.02,414.8 262.58,411.98 259.45,411.98" fill="none" stroke="#a764ea" stroke-width="0.72"/>
<polygon points="262.32,414.03 263.88,411.21 260.75,411.21" fill="none" stroke="#a764ea" stroke-width="0.72"/>
<polygon points="264.15,414.97 265.72,412.16 262.59,412.16" fill="none" stroke="#a764ea" stroke-width="0.72"/>
<polygon points="265.26,412.83 266.82,410.02 263.7,410.02" fill="none" stroke="#a764ea" stroke-width="0.72"/>
<polygon points="267.06,414.09 268.62,411.28 265.5,411.28" fill="none" stroke="#a764ea" stroke-width="0.72"/>
<polygon points="267.96,412.94 269.53,410.12 266.4,410.12" fill="none" stroke="#a764ea" stroke-width="0.72"/>
<polygon points="269.2,415.54 270.76,412.73 267.63,412.73" fill="none" stroke="#a764ea" stroke-width="0.72"/>
<polygon points="270.54,415.31 272.1,412.5 268.98,412.5" fill="none" stroke="#a764ea" stroke-width="0.72"/>
<polygon points="272.2,415.14 273.76,412.33 270.64,412.33" fill="none" stroke="#a764ea" stroke-width="0.72"/>
<polygon points="273.32,415.89 274.88,413.08 271.76,413.08" fill="none" stroke="#a764ea" stroke-width="0.72"/>
<polygon points="274.36,415.34 275.92,412.52 272.79,412.52" fill="none" stroke="#a764ea" stroke-width="0.72"/>
<polygon points="276.29,416.95 277.85,414.14 274.73,414.14" fill="none" stroke="#a764ea" stroke-width="0.72"/>
<polygon points="277.53,415.65 279.09,412.84 275.97,412.84" fill="none" stroke="#a764ea" stroke-width="0.72"/>
<polygon points="279.42,414.41 280.98,411.6 277.86,411.6" fill="none" stroke="#a764ea" stroke-width="0.72"/>
<polygon points="280.51,414.17 282.07,411.36 278.94,411.36" fill="none" stroke="#a764ea" stroke-width="0.72"/>
<polygon points="281.92,414.68 283.48,411.86 280.36,411.86" fill="none" stroke="#a764ea" stroke-width="0.72"/>
<polygon points="283.02,417.29 284.58,414.47 281.46,414.47" fill="none" stroke="#a764ea" stroke-width="0.72"/>
<polygon points="284.87,417.67 286.43,414.86 283.31,414.86" fill="none" stroke="#a764ea" stroke-width="0.72"/>
<polygon points="286.05,414.16 287.61,411.35 284.49,411.35" fill="none" stroke="#a764ea" stroke-width="0.72"/>
<polygon points="287.1,414.51 288.66,411.69 285.54,411.69" fill="none" stroke="#a764ea" stroke-width="0.72"/>
<polygon points="288.38,416.94 289.95,414.13 286.82,414.13" fill="none" stroke="#a764ea" stroke-width="0.72"/>
<polygon points="289.75,417.09 291.32,414.28 288.19,414.28" fill="none" stroke="#a764ea" stroke-width="0.72"/>
<polygon points="291.04,416.64 292.6,413.83 289.47,413.83" fill="none" stroke="#a764ea" stroke-width="0.72"/>
<polygon points="292.69,414.77 294.26,411.96 291.13,411.96" fill="none" stroke="#a764ea" stroke-width="0.72"/>
<polygon points="293.27,416.06 294.83,413.24 291.7,413.24" fill="none" stroke="#a764ea" stroke-width="0.72"/>
<polygon points="294.95,416.49 296.51,413.68 293.39,413.68" fill="none" stroke="#a764ea" stroke-width="0.72"/>
<polygon points="296.34,415.46 297.9,412.65 294.77,412.65" fill="none" stroke="#a764ea" stroke-width="0.72"/>
<polygon points="297.66,412.83 299.22,410.02 296.09,410.02" fill="none" stroke="#a764ea" stroke-width="0.72"/>
<polygon points="299.13,417.79 300.69,414.98 297.57,414.98" fill="none" stroke="#a764ea" stroke-width="0.72"/>
<polygon points="300.78,416.69 302.34,413.88 299.22,413.88" fill="none" stroke="#a764ea" stroke-width="0.72"/>
<polygon points="301.61,418.91 303.17,416.1 300.05,416.1" fill="none" stroke="#a764ea" stroke-width="0.72"/>
<polygon points="304,415.45 305.56,412.64 302.43,412.64" fill="none" stroke="#a764ea" stroke-width="0.72"/>
<polygon points="304.51,419.85 306.08,417.04 302.95,417.04" fill="none" stroke="#a764ea" stroke-width="0.72"/>
<polygon points="305.7,419.92 307.27,417.11 304.14,417.11" fill="none" stroke="#a764ea" stroke-width="0.72"/>
<polygon points="307.53,418.88 309.09,416.06 305.97,416.06" fill="none" stroke="#a764ea" stroke-width="0.72"/>
<polygon points="308.72,419.83 310.28,417.02 307.15,417.02" fill="none" stroke="#a764ea" stroke-width="0.72"/>
<polygon points="310.23,419.42 311.79,416.61 308.67,416.61" fill="none" stroke="#a764ea" stroke-width="0.72"/>
<polygon points="310.62,420.95 312.18,418.13 309.06,418.13" fill="none" stroke="#a764ea" stroke-width="0.72"/>
<polygon points="312.47,421.09 314.03,418.27 310.9,418.27" fill="none" stroke="#a764ea" stroke-width="0.72"/>
<polygon points="311.42,423.92 312.98,421.1 309.86,421.1" fill="none" stroke="#a764ea" stroke-width="0.72"/>
<polygon points="313.34,423.44 314.9,420.63 311.78,420.63" fill="none" stroke="#a764ea" stroke-width="0.72"/>
<polygon points="313.67,425.26 315.23,422.44 312.11,422.44" fill="none" stroke="#a764ea" stroke-width="0.72"/>
<polygon points="316.24,425.09 317.81,422.27 314.68,422.27" fill="none" stroke="#a764ea" stroke-width="0.72"/>
<polygon points="315.47,427.77 317.03,424.96 313.91,424.96" fill="none" stroke="#a764ea" stroke-width="0.72"/>
<polygon points="316.79,428.94 318.35,426.13 315.23,426.13" fill="none" stroke="#a764ea" stroke-width="0.72"/>
<polygon points="317.63,429.93 319.19,427.12 316.07,427.12" fill="none" stroke="#a764ea" stroke-width="0.72"/>
<polygon points="316.74,431.59 318.31,428.78 315.18,428.78" fill="none" stroke="#a764ea" stroke-width="0.72"/>
<polygon points="317.9,432.68 319.47,429.86 316.34,429.86" fill="none" stroke="#a764ea" stroke-width="0.72"/>
<polygon points="319.29,433.52 320.85,430.71 317.73,430.71" fill="none" stroke="#a764ea" stroke-width="0.72"/>
<polygon points="319.1,435.21 320.67,432.4 317.54,432.4" fill="none" stroke="#a764ea" stroke-width="0.72"/>
<polygon points="320.6,436.46 322.16,433.64 319.04,433.64" fill="none" stroke="#a764ea" stroke-width="0.72"/>
<polygon points="320.48,438.05 322.05,435.24 318.92,435.24" fill="none" stroke="#a764ea" stroke-width="0.72"/>
<polygon points="321.19,439.32 322.75,436.51 319.63,436.51" fill="none" stroke="#a764ea" stroke-width="0.72"/>
<polygon points="320.57,441.05 322.13,438.24 319.01,438.24" fill="none" stroke="#a764ea" stroke-width="0.72"/>
<polygon points="319.69,442.49 321.25,439.68 318.13,439.68" fill="none" stroke="#a764ea" stroke-width="0.72"/>
<polygon points="318.91,444.23 320.47,441.41 317.35,441.41" fill="none" stroke="#a764ea" stroke-width="0.72"/>
<polygon points="319.11,445.58 320.68,442.76 317.55,442.76" fill="none" stroke="#a764ea" stroke-width="0.72"/>
<polygon points="319.58,446.97 321.14,444.16 318.01,444.16" fill="none" stroke="#a764ea" stroke-width="0.72"/>
<polygon points="321.88,447.7 323.45,444.89 320.32,444.89" fill="none" stroke="#a764ea" stroke-width="0.72"/>
<polygon points="369.86,364 371.42,361.19 368.3,361.19" fill="none" stroke="#a764ea" stroke-width="0.72"/>
<polygon points="370.44,365.48 372.01,362.67 368.88,362.67" fill="none" stroke="#a764ea" stroke-width="0.72"/>
<polygon points="373.81,365.44 375.38,362.62 372.25,362.62" fill="none" stroke="#a764ea" stroke-width="0.72"/>
<polygon points="372.52,368.21 374.08,365.4 370.96,365.4" fill="none" stroke="#a764ea" stroke-width="0.72"/>
<polygon points="372.95,369.9 374.51,367.09 371.39,367.09" fill="none" stroke="#a764ea" stroke-width="0.72"/>
<polygon points="372.93,371.53 374.5,368.72 371.37,368.72" fill="none" stroke="#a764ea" stroke-width="0.72"/>
<polygon points="375.95,371.83 377.52,369.02 374.39,369.02" fill="none" stroke="#a764ea" stroke-width="0.72"/>
<polygon points="376.31,373.55 377.88,370.73 374.75,370.73" fill="none" stroke="#a764ea" stroke-width="0.72"/>
<polygon points="375.55,375.98 377.11,373.17 373.99,373.17" fill="none" stroke="#a764ea" stroke-width="0.72"/>
<polygon points="376.18,377.77 377.75,374.96 374.62,374.96" fill="none" stroke="#a764ea" stroke-width="0.72"/>
<polygon points="378.24,378.29 379.8,375.48 376.67,375.48" fill="none" stroke="#a764ea" stroke-width="0.72"/>
<polygon points="378.38,381.09 379.95,378.28 376.82,378.28" fill="none" stroke="#a764ea" stroke-width="0.72"/>
<polygon points="380.5,381.13 382.06,378.32 378.94,378.32" fill="none" stroke="#a764ea" stroke-width="0.72"/>
<polygon points="381.85,380.97 383.41,378.15 380.29,378.15" fill="none" stroke="#a764ea" stroke-width="0.72"/>
<polygon points="381.72,383.9 383.28,381.09 380.16,381.09" fill="none" stroke="#a764ea" stroke-width="0.72"/>
<polygon points="382.77,385.64 384.33,382.83 381.2,382.83" fill="none" stroke="#a764ea" stroke-width="0.72"/>
<polygon points="385.07,385.35 386.63,382.54 383.51,382.54" fill="none" stroke="#a764ea" stroke-width="0.72"/>
<polygon points="386.26,386.26 387.82,383.45 384.7,383.45" fill="none" stroke="#a764ea" stroke-width="0.72"/>
<polygon points="387.96,386.46 389.52,383.65 386.4,383.65" fill="none" stroke="#a764ea" stroke-width="0.72"/>
<polygon points="389.59,386.16 391.16,383.35 388.03,383.35" fill="none" stroke="#a764ea" stroke-width="0.72"/>
<polygon points="389.99,388.74 391.55,385.93 388.42,385.93" fill="none" stroke="#a764ea" stroke-width="0.72"/>
<polygon points="391.15,390.53 392.71,387.72 389.59,387.72" fill="none" stroke="#a764ea" stroke-width="0.72"/>
<polygon points="392.27,392.71 393.83,389.9 390.71,389.9" fill="none" stroke="#a764ea" stroke-width="0.72"/>
<polygon points="394.6,392.16 396.16,389.34 393.04,389.34" fill="none" stroke="#a764ea" stroke-width="0.72"/>
<polygon points="396.24,392.45 397.8,389.64 394.68,389.64" fill="none" stroke="#a764ea" stroke-width="0.72"/>
<polygon points="397.09,393.75 398.65,390.94 395.52,390.94" fill="none" stroke="#a764ea" stroke-width="0.72"/>
<polygon points="398.63,393.85 400.2,391.04 397.07,391.04" fill="none" stroke="#a764ea" stroke-width="0.72"/>
<polygon points="400.08,395.01 401.64,392.19 398.52,392.19" fill="none" stroke="#a764ea" stroke-width="0.72"/>
<polygon points="401.36,395.96 402.92,393.15 399.8,393.15" fill="none" stroke="#a764ea" stroke-width="0.72"/>
<polygon points="402.83,396.48 404.39,393.67 401.27,393.67" fill="none" stroke="#a764ea" stroke-width="0.72"/>
<polygon points="404.62,395.82 406.18,393.01 403.05,393.01" fill="none" stroke="#a764ea" stroke-width="0.72"/>
<polygon points="406.54,394.99 408.1,392.18 404.98,392.18" fill="none" stroke="#a764ea" stroke-width="0.72"/>
<polygon points="407.22,397.84 408.78,395.03 405.66,395.03" fill="none" stroke="#a764ea" stroke-width="0.72"/>
<polygon points="408.71,398.02 410.27,395.2 407.15,395.2" fill="none" stroke="#a764ea" stroke-width="0.72"/>
<polygon points="410.6,397.76 412.16,394.95 409.03,394.95" fill="none" stroke="#a764ea" stroke-width="0.72"/>
<polygon points="412.23,399.4 413.8,396.59 410.67,396.59" fill="none" stroke="#a764ea" stroke-width="0.72"/>
<polygon points="413.36,399.51 414.92,396.7 411.8,396.7" fill="none" stroke="#a764ea" stroke-width="0.72"/>
<polygon points="415.1,400.66 416.66,397.84 413.54,397.84" fill="none" stroke="#a764ea" stroke-width="0.72"/>
<polygon points="416.81,398.7 418.37,395.89 415.24,395.89" fill="none" stroke="#a764ea" stroke-width="0.72"/>
<polygon points="417.99,400.62 419.56,397.81 416.43,397.81" fill="none" stroke="#a764ea" stroke-width="0.72"/>
<polygon points="419.96,399.23 421.52,396.42 418.39,396.42" fill="none" stroke="#a764ea" stroke-width="0.72"/>
<polygon points="421.71,400.48 423.27,397.67 420.15,397.67" fill="none" stroke="#a764ea" stroke-width="0.72"/>
<polygon points="422.92,400.1 424.48,397.28 421.35,397.28" fill="none" stroke="#a764ea" stroke-width="0.72"/>
<polygon points="423.78,401.23 425.34,398.42 422.22,398.42" fill="none" stroke="#a764ea" stroke-width="0.72"/>
<polygon points="426.08,400.24 427.64,397.43 424.52,397.43" fill="none" stroke="#a764ea" stroke-width="0.72"/>
<polygon points="427.74,400.83 429.3,398.02 426.17,398.02" fill="none" stroke="#a764ea" stroke-width="0.72"/>
<polygon points="429.6,400.84 431.16,398.03 428.04,398.03" fill="none" stroke="#a764ea" stroke-width="0.72"/>
<polygon points="430.77,401.75 432.34,398.94 429.21,398.94" fill="none" stroke="#a764ea" stroke-width="0.72"/>
<polygon points="432.4,402.01 433.96,399.2 430.83,399.2" fill="none" stroke="#a764ea" stroke-width="0.72"/>
<polygon points="434.33,401.09 435.89,398.28 432.77,398.28" fill="none" stroke="#a764ea" stroke-width="0.72"/>
<polygon points="435.41,402.11 436.97,399.29 433.84,399.29" fill="none" stroke="#a764ea" stroke-width="0.72"/>
<polygon points="436.63,403.14 438.19,400.33 435.07,400.33" fill="none" stroke="#a764ea" stroke-width="0.72"/>
<polygon points="438.21,403.19 439.78,400.38 436.65,400.38" fill="none" stroke="#a764ea" stroke-width="0.72"/>
<polygon points="439.38,403.76 440.94,400.95 437.82,400.95" fill="none" stroke="#a764ea" stroke-width="0.72"/>
<polygon points="440.78,406 442.34,403.19 439.21,403.19" fill="none" stroke="#a764ea" stroke-width="0.72"/>
<polygon points="442.87,403.51 444.43,400.7 441.3,400.7" fill="none" stroke="#a764ea" stroke-width="0.72"/>
<polygon points="444.2,403.96 445.76,401.14 442.63,401.14" fill="none" stroke="#a764ea" stroke-width="0.72"/>
<polyline points="246.1,332.6 249.78,332.59 253.61,332.57 257.53,332.54 261.47,332.51 265.36,332.48 269.15,332.46 272.76,332.46 276.14,332.48 279.2,332.52 281.9,332.6 284.2,332.7 286.14,332.81 287.79,332.93 289.2,333.07 290.44,333.23 291.55,333.42 292.59,333.63 293.63,333.88 294.71,334.17 295.9,334.5 297.15,334.87 298.39,335.28 299.6,335.73 300.78,336.22 301.94,336.73 303.06,337.27 304.14,337.83 305.17,338.41 306.16,339 307.1,339.6 307.98,340.2 308.79,340.79 309.55,341.39 310.27,342 310.95,342.64 311.6,343.31 312.24,344.04 312.86,344.82 313.48,345.67 314.1,346.6 314.72,347.63 315.31,348.75 315.88,349.95 316.44,351.2 316.99,352.51 317.53,353.84 318.06,355.18 318.6,356.51 319.15,357.83 319.7,359.1" fill="none" stroke="#ee5858" stroke-width="1.05" stroke-linejoin="round"/>
<polyline points="370.4,298.7 371.09,299.58 371.75,300.46 372.41,301.35 373.06,302.24 373.72,303.12 374.39,304.01 375.09,304.88 375.81,305.74 376.58,306.58 377.4,307.4 378.26,308.21 379.15,309.02 380.07,309.82 381.03,310.61 382.01,311.39 383.01,312.14 384.05,312.88 385.11,313.59 386.19,314.26 387.3,314.9 388.42,315.5 389.56,316.07 390.7,316.61 391.88,317.13 393.08,317.62 394.32,318.09 395.61,318.54 396.94,318.97 398.34,319.39 399.8,319.8 401.3,320.19 402.81,320.56 404.35,320.91 405.93,321.24 407.57,321.55 409.29,321.85 411.1,322.15 413.01,322.43 415.04,322.72 417.2,323 419.53,323.28 422.03,323.54 424.66,323.8 427.41,324.05 430.23,324.29 433.1,324.53 436,324.77 438.88,325.01 441.73,325.25 444.5,325.5" fill="none" stroke="#ee5858" stroke-width="1.05" stroke-linejoin="round"/>
<polyline points="246.1,367 249.78,366.75 253.61,366.48 257.53,366.19 261.47,365.9 265.36,365.62 269.15,365.35 272.76,365.12 276.14,364.92 279.2,364.78 281.9,364.7 284.2,364.68 286.14,364.7 287.79,364.76 289.2,364.86 290.44,364.99 291.55,365.16 292.59,365.36 293.63,365.58 294.71,365.83 295.9,366.1 297.15,366.39 298.39,366.72 299.6,367.07 300.78,367.44 301.94,367.85 303.06,368.28 304.14,368.75 305.17,369.24 306.16,369.75 307.1,370.3 307.98,370.86 308.79,371.41 309.55,371.97 310.27,372.56 310.95,373.19 311.6,373.86 312.24,374.6 312.86,375.41 313.48,376.3 314.1,377.3 314.72,378.42 315.31,379.65 315.88,380.99 316.44,382.4 316.99,383.86 317.53,385.36 318.06,386.88 318.6,388.39 319.15,389.87 319.7,391.3" fill="none" stroke="#ee5858" stroke-width="1.05" stroke-linejoin="round"/>
<polyline points="370.4,319.3 371.09,320.74 371.75,322.21 372.41,323.7 373.06,325.19 373.72,326.67 374.39,328.13 375.09,329.56 375.81,330.94 376.58,332.25 377.4,333.5 378.26,334.67 379.15,335.79 380.07,336.86 381.03,337.88 382.01,338.87 383.01,339.82 384.05,340.74 385.11,341.64 386.19,342.53 387.3,343.4 388.42,344.26 389.56,345.11 390.7,345.93 391.88,346.73 393.08,347.51 394.32,348.25 395.61,348.97 396.94,349.65 398.34,350.29 399.8,350.9 401.3,351.47 402.81,351.99 404.35,352.49 405.93,352.95 407.57,353.37 409.29,353.77 411.1,354.14 413.01,354.49 415.04,354.8 417.2,355.1 419.53,355.36 422.03,355.57 424.66,355.75 427.41,355.89 430.23,356.02 433.1,356.13 436,356.24 438.88,356.34 441.73,356.46 444.5,356.6" fill="none" stroke="#ee5858" stroke-width="1.05" stroke-linejoin="round"/>
<polyline points="246.1,380.1 249.78,380.01 253.61,379.9 257.53,379.78 261.47,379.66 265.36,379.55 269.15,379.45 272.76,379.36 276.14,379.31 279.2,379.28 281.9,379.3 284.2,379.35 286.14,379.42 287.79,379.5 289.2,379.61 290.44,379.75 291.55,379.91 292.59,380.11 293.63,380.34 294.71,380.6 295.9,380.9 297.15,381.23 298.39,381.6 299.6,381.99 300.78,382.42 301.94,382.87 303.06,383.37 304.14,383.89 305.17,384.46 306.16,385.06 307.1,385.7 307.97,386.34 308.78,386.97 309.53,387.61 310.23,388.27 310.9,388.98 311.54,389.77 312.18,390.65 312.81,391.65 313.44,392.79 314.1,394.1 314.76,395.6 315.42,397.29 316.06,399.13 316.7,401.1 317.34,403.16 317.97,405.27 318.6,407.4 319.23,409.52 319.86,411.6 320.5,413.6" fill="none" stroke="#ee5858" stroke-width="1.05" stroke-linejoin="round"/>
<polyline points="370.4,338.5 371.09,339.5 371.75,340.5 372.41,341.51 373.06,342.52 373.72,343.52 374.39,344.53 375.09,345.52 375.81,346.5 376.58,347.46 377.4,348.4 378.26,349.33 379.15,350.26 380.07,351.18 381.03,352.09 382.01,352.98 383.01,353.86 384.05,354.71 385.11,355.54 386.19,356.34 387.3,357.1 388.42,357.83 389.56,358.53 390.7,359.21 391.88,359.86 393.08,360.48 394.32,361.08 395.61,361.67 396.94,362.23 398.34,362.77 399.8,363.3 401.3,363.81 402.81,364.31 404.35,364.79 405.93,365.25 407.57,365.69 409.29,366.11 411.1,366.5 413.01,366.86 415.04,367.2 417.2,367.5 419.53,367.76 422.03,367.97 424.66,368.15 427.41,368.29 430.23,368.42 433.1,368.53 436,368.64 438.88,368.74 441.73,368.86 444.5,369" fill="none" stroke="#ee5858" stroke-width="1.05" stroke-linejoin="round"/>
<polyline points="246.1,412.2 249.74,412.4 253.47,412.6 257.26,412.79 261.06,412.99 264.84,413.19 268.54,413.39 272.14,413.59 275.6,413.79 278.86,413.99 281.9,414.2 284.75,414.4 287.46,414.57 290.05,414.74 292.5,414.9 294.81,415.07 296.99,415.27 299.03,415.48 300.93,415.74 302.69,416.04 304.3,416.4 305.72,416.8 306.92,417.24 307.94,417.7 308.8,418.19 309.55,418.72 310.21,419.29 310.83,419.9 311.42,420.56 312.04,421.25 312.7,422 313.39,422.78 314.05,423.6 314.68,424.45 315.28,425.35 315.86,426.29 316.4,427.28 316.92,428.32 317.41,429.41 317.87,430.57 318.3,431.8 318.69,433.11 319.03,434.52 319.32,436.01 319.59,437.56 319.83,439.15 320.06,440.77 320.28,442.4 320.51,444.03 320.74,445.63 321,447.2" fill="none" stroke="#ee5858" stroke-width="1.05" stroke-linejoin="round"/>
<polyline points="370.4,362.1 371.09,363.48 371.75,364.88 372.41,366.29 373.06,367.71 373.72,369.12 374.39,370.52 375.09,371.88 375.81,373.21 376.58,374.49 377.4,375.7 378.26,376.86 379.15,377.97 380.07,379.05 381.03,380.08 382.01,381.09 383.01,382.06 384.05,383 385.11,383.92 386.19,384.82 387.3,385.7 388.42,386.56 389.56,387.38 390.7,388.19 391.88,388.96 393.08,389.71 394.32,390.44 395.61,391.14 396.94,391.82 398.34,392.47 399.8,393.1 401.3,393.7 402.81,394.27 404.35,394.8 405.93,395.31 407.57,395.8 409.29,396.27 411.1,396.73 413.01,397.19 415.04,397.64 417.2,398.1 419.53,398.55 422.03,398.99 424.66,399.42 427.41,399.84 430.23,400.25 433.1,400.66 436,401.07 438.88,401.47 441.73,401.88 444.5,402.3" fill="none" stroke="#ee5858" stroke-width="1.05" stroke-linejoin="round"/>
<text x="249.9" y="260.7" font-size="10"><tspan font-style="italic">J</tspan><tspan font-size="7" dy="2.6">a.c.</tspan><tspan dy="-2.6"> (×10</tspan><tspan font-size="7" dy="-3.6">10</tspan><tspan dy="3.6">Am</tspan><tspan font-size="7" dy="-3.6">-2</tspan><tspan dy="3.6">)</tspan></text>
<rect x="260.45" y="267.95" width="2.1" height="2.1" fill="none" stroke="#4a4a4a" stroke-width="0.6"/>
<text transform="translate(271.4,272.7) scale(0.9,1)" font-size="10">0.27</text>
<circle cx="261.5" cy="280.8" r="1.1" fill="none" stroke="#2d6fe6" stroke-width="0.6"/>
<text transform="translate(271.4,284.5) scale(0.9,1)" font-size="10">0.34</text>
<polygon points="261.5,291.29 262.81,293.65 260.19,293.65" fill="none" stroke="#2f9e4a" stroke-width="0.6"/>
<text transform="translate(271.4,296.3) scale(0.9,1)" font-size="10">0.39</text>
<polygon points="261.5,305.71 262.81,303.35 260.19,303.35" fill="none" stroke="#a764ea" stroke-width="0.6"/>
<text transform="translate(271.4,308.1) scale(0.9,1)" font-size="10">0.47</text>
<line x1="251.8" y1="316.2" x2="271.3" y2="316.2" stroke="#ee5858" stroke-width="1.2" />
<text transform="translate(273.8,319.9) scale(0.88,1)" font-size="10">Fit</text>
<g transform="translate(208.4,372.3) rotate(-90)">
<text x="0" y="0" font-size="11" font-style="italic">R</text>
<text x="8" y="-4.2" font-size="6.8" font-style="italic" textLength="8.4" lengthAdjust="spacingAndGlyphs">2ω</text>
<text x="7.8" y="3" font-size="7" font-style="italic">xy</text>
<text x="20.9" y="0" font-size="11.5" textLength="26.6" lengthAdjust="spacingAndGlyphs">(mΩ)</text>
</g>
<text x="329.8" y="477.6" font-size="10.5"><tspan font-style="italic">μ</tspan><tspan font-style="italic" font-size="7.98" dy="2.52">0</tspan><tspan font-style="italic" dy="-2.52">H</tspan><tspan font-style="italic" font-size="7.77" dy="2.52">x</tspan><tspan dy="-2.52"> (T)</tspan></text>
<rect x="506.5" y="4.5" width="172" height="449" fill="none" stroke="#5c5c5c" stroke-width="1"/>
<line x1="506.5" y1="155.5" x2="678.5" y2="155.5" stroke="#5c5c5c" stroke-width="1" />
<line x1="506.5" y1="305.5" x2="678.5" y2="305.5" stroke="#5c5c5c" stroke-width="1" />
<line x1="520.6" y1="110.3" x2="520.6" y2="140.5" stroke="#c4c4c4" stroke-width="0.8" />
<line x1="519" y1="110.3" x2="522.2" y2="110.3" stroke="#c4c4c4" stroke-width="0.8" />
<line x1="519" y1="140.5" x2="522.2" y2="140.5" stroke="#c4c4c4" stroke-width="0.8" />
<line x1="572.7" y1="77.2" x2="572.7" y2="115.3" stroke="#c4c4c4" stroke-width="0.8" />
<line x1="571.1" y1="77.2" x2="574.3" y2="77.2" stroke="#c4c4c4" stroke-width="0.8" />
<line x1="571.1" y1="115.3" x2="574.3" y2="115.3" stroke="#c4c4c4" stroke-width="0.8" />
<line x1="605.8" y1="79.5" x2="605.8" y2="113.3" stroke="#c4c4c4" stroke-width="0.8" />
<line x1="604.2" y1="79.5" x2="607.4" y2="79.5" stroke="#c4c4c4" stroke-width="0.8" />
<line x1="604.2" y1="113.3" x2="607.4" y2="113.3" stroke="#c4c4c4" stroke-width="0.8" />
<line x1="661.5" y1="11.6" x2="661.5" y2="51.4" stroke="#c4c4c4" stroke-width="0.8" />
<line x1="659.9" y1="11.6" x2="663.1" y2="11.6" stroke="#c4c4c4" stroke-width="0.8" />
<line x1="659.9" y1="51.4" x2="663.1" y2="51.4" stroke="#c4c4c4" stroke-width="0.8" />
<line x1="520.6" y1="129.2" x2="662.1" y2="43.1" stroke="#4d4d4d" stroke-width="2" />
<circle cx="520.6" cy="125.2" r="2.65" fill="#fff" stroke="#4d4d4d" stroke-width="1.3"/>
<circle cx="572.7" cy="96.4" r="2.65" fill="#fff" stroke="#4d4d4d" stroke-width="1.3"/>
<circle cx="605.8" cy="95.4" r="2.65" fill="#fff" stroke="#4d4d4d" stroke-width="1.3"/>
<circle cx="661.5" cy="31.1" r="2.65" fill="#fff" stroke="#4d4d4d" stroke-width="1.3"/>
<circle cx="521.8" cy="15.4" r="2.5" fill="none" stroke="#4d4d4d" stroke-width="1.25"/>
<text x="536.6" y="19.2" font-size="10.5"><tspan font-style="italic">H</tspan></text>
<text x="544.8" y="14.5" font-size="7" font-style="italic">X</text>
<text x="543.8" y="22.7" font-size="7.2" font-style="italic">DL</text>
<line x1="510.3" y1="31.6" x2="533.5" y2="31.6" stroke="#4d4d4d" stroke-width="2.1" />
<text x="536.8" y="35.5" font-size="10.5" text-anchor="start" >Fit</text>
<text x="503.3" y="50.2" font-size="10.5" text-anchor="end" >1.0</text>
<line x1="506.5" y1="46.4" x2="508.5" y2="46.4" stroke="#5c5c5c" stroke-width="1" />
<text x="503.3" y="110.8" font-size="10.5" text-anchor="end" >0.5</text>
<line x1="506.5" y1="107" x2="508.5" y2="107" stroke="#5c5c5c" stroke-width="1" />
<line x1="506.5" y1="16.1" x2="508" y2="16.1" stroke="#5c5c5c" stroke-width="1" />
<line x1="506.5" y1="76.7" x2="508" y2="76.7" stroke="#5c5c5c" stroke-width="1" />
<line x1="506.5" y1="137.3" x2="508" y2="137.3" stroke="#5c5c5c" stroke-width="1" />
<line x1="520.9" y1="247.4" x2="520.9" y2="291.4" stroke="#f4a3a3" stroke-width="0.8" />
<line x1="519.3" y1="247.4" x2="522.5" y2="247.4" stroke="#f4a3a3" stroke-width="0.8" />
<line x1="519.3" y1="291.4" x2="522.5" y2="291.4" stroke="#f4a3a3" stroke-width="0.8" />
<line x1="573" y1="223.5" x2="573" y2="266.1" stroke="#f4a3a3" stroke-width="0.8" />
<line x1="571.4" y1="223.5" x2="574.6" y2="223.5" stroke="#f4a3a3" stroke-width="0.8" />
<line x1="571.4" y1="266.1" x2="574.6" y2="266.1" stroke="#f4a3a3" stroke-width="0.8" />
<line x1="606.1" y1="208" x2="606.1" y2="259.7" stroke="#f4a3a3" stroke-width="0.8" />
<line x1="604.5" y1="208" x2="607.7" y2="208" stroke="#f4a3a3" stroke-width="0.8" />
<line x1="604.5" y1="259.7" x2="607.7" y2="259.7" stroke="#f4a3a3" stroke-width="0.8" />
<line x1="661.8" y1="189.3" x2="661.8" y2="230.8" stroke="#f4a3a3" stroke-width="0.8" />
<line x1="660.2" y1="189.3" x2="663.4" y2="189.3" stroke="#f4a3a3" stroke-width="0.8" />
<line x1="660.2" y1="230.8" x2="663.4" y2="230.8" stroke="#f4a3a3" stroke-width="0.8" />
<line x1="520.9" y1="269.6" x2="661.8" y2="209.7" stroke="#e8161c" stroke-width="2" />
<circle cx="520.9" cy="269.6" r="2.65" fill="#fff" stroke="#e8161c" stroke-width="1.3"/>
<circle cx="573" cy="244.6" r="2.65" fill="#fff" stroke="#e8161c" stroke-width="1.3"/>
<circle cx="606.1" cy="234" r="2.65" fill="#fff" stroke="#e8161c" stroke-width="1.3"/>
<circle cx="661.8" cy="210" r="2.65" fill="#fff" stroke="#e8161c" stroke-width="1.3"/>
<circle cx="521.8" cy="165.8" r="2.5" fill="none" stroke="#e8161c" stroke-width="1.25"/>
<text x="536.6" y="169.6" font-size="10.5"><tspan font-style="italic">H</tspan></text>
<text x="544.8" y="164.9" font-size="7" font-style="italic">Y</text>
<text x="543.8" y="173.1" font-size="7.2" font-style="italic">DL</text>
<line x1="510.3" y1="182.6" x2="533.5" y2="182.6" stroke="#e8161c" stroke-width="2.1" />
<text x="536.8" y="186.5" font-size="10.5" text-anchor="start" >Fit</text>
<text x="503.3" y="201.9" font-size="10.5" text-anchor="end" >0.2</text>
<line x1="506.5" y1="198.1" x2="508.5" y2="198.1" stroke="#5c5c5c" stroke-width="1" />
<text x="503.3" y="288.2" font-size="10.5" text-anchor="end" >0.0</text>
<line x1="506.5" y1="284.4" x2="508.5" y2="284.4" stroke="#5c5c5c" stroke-width="1" />
<line x1="506.5" y1="241.2" x2="508" y2="241.2" stroke="#5c5c5c" stroke-width="1" />
<line x1="521.4" y1="419.3" x2="521.4" y2="431.8" stroke="#96d1aa" stroke-width="0.8" />
<line x1="519.8" y1="419.3" x2="523" y2="419.3" stroke="#96d1aa" stroke-width="0.8" />
<line x1="519.8" y1="431.8" x2="523" y2="431.8" stroke="#96d1aa" stroke-width="0.8" />
<line x1="572.9" y1="380.7" x2="572.9" y2="396.6" stroke="#96d1aa" stroke-width="0.8" />
<line x1="571.3" y1="380.7" x2="574.5" y2="380.7" stroke="#96d1aa" stroke-width="0.8" />
<line x1="571.3" y1="396.6" x2="574.5" y2="396.6" stroke="#96d1aa" stroke-width="0.8" />
<line x1="605.8" y1="368.2" x2="605.8" y2="382.6" stroke="#96d1aa" stroke-width="0.8" />
<line x1="604.2" y1="368.2" x2="607.4" y2="368.2" stroke="#96d1aa" stroke-width="0.8" />
<line x1="604.2" y1="382.6" x2="607.4" y2="382.6" stroke="#96d1aa" stroke-width="0.8" />
<line x1="662.7" y1="315.9" x2="662.7" y2="332.6" stroke="#96d1aa" stroke-width="0.8" />
<line x1="661.1" y1="315.9" x2="664.3" y2="315.9" stroke="#96d1aa" stroke-width="0.8" />
<line x1="661.1" y1="332.6" x2="664.3" y2="332.6" stroke="#96d1aa" stroke-width="0.8" />
<line x1="521.4" y1="428" x2="662.7" y2="327.7" stroke="#2ea35a" stroke-width="2" />
<circle cx="521.4" cy="425.8" r="2.65" fill="#fff" stroke="#2ea35a" stroke-width="1.3"/>
<circle cx="572.9" cy="389" r="2.65" fill="#fff" stroke="#2ea35a" stroke-width="1.3"/>
<circle cx="605.8" cy="375" r="2.65" fill="#fff" stroke="#2ea35a" stroke-width="1.3"/>
<circle cx="662.7" cy="324.2" r="2.65" fill="#fff" stroke="#2ea35a" stroke-width="1.3"/>
<circle cx="521.8" cy="317" r="2.5" fill="none" stroke="#2ea35a" stroke-width="1.25"/>
<text x="536.6" y="320.8" font-size="10.5"><tspan font-style="italic">H</tspan></text>
<text x="544.8" y="316.1" font-size="7" font-style="italic">Z</text>
<text x="543.8" y="324.3" font-size="7.2" font-style="italic">DL</text>
<line x1="510.3" y1="333.3" x2="533.5" y2="333.3" stroke="#2ea35a" stroke-width="2.1" />
<text x="536.8" y="337.2" font-size="10.5" text-anchor="start" >Fit</text>
<text x="503.3" y="347.4" font-size="10.5" text-anchor="end" >15</text>
<line x1="506.5" y1="343.6" x2="508.5" y2="343.6" stroke="#5c5c5c" stroke-width="1" />
<text x="503.3" y="416.3" font-size="10.5" text-anchor="end" >10</text>
<line x1="506.5" y1="412.5" x2="508.5" y2="412.5" stroke="#5c5c5c" stroke-width="1" />
<line x1="506.5" y1="378" x2="508" y2="378" stroke="#5c5c5c" stroke-width="1" />
<line x1="506.5" y1="447" x2="508" y2="447" stroke="#5c5c5c" stroke-width="1" />
<line x1="506.5" y1="309.2" x2="508" y2="309.2" stroke="#5c5c5c" stroke-width="1" />
<text x="541.2" y="465.2" font-size="10.5" text-anchor="middle" >0.3</text>
<line x1="541.2" y1="453.3" x2="541.2" y2="451.3" stroke="#5c5c5c" stroke-width="1" />
<text x="609.6" y="465.2" font-size="10.5" text-anchor="middle" >0.4</text>
<line x1="609.6" y1="453.3" x2="609.6" y2="451.3" stroke="#5c5c5c" stroke-width="1" />
<text x="678" y="465.2" font-size="10.5" text-anchor="middle" >0.5</text>
<line x1="678" y1="453.3" x2="678" y2="451.3" stroke="#5c5c5c" stroke-width="1" />
<line x1="575.4" y1="453.3" x2="575.4" y2="451.8" stroke="#5c5c5c" stroke-width="1" />
<line x1="643.8" y1="453.3" x2="643.8" y2="451.8" stroke="#5c5c5c" stroke-width="1" />
<g transform="translate(488,247.2) rotate(-90)"><text x="0" y="0" font-size="10.5" font-style="italic">H</text><text x="8" y="2.4" font-size="6.8" font-style="italic">DL</text><text x="18.8" y="0" font-size="11" textLength="23.4" lengthAdjust="spacingAndGlyphs">(mT)</text></g>
<text x="558.2" y="477.6" font-size="10.5"><tspan font-style="italic">J</tspan><tspan font-style="italic" font-size="7" dy="2.6">a.c.</tspan><tspan dy="-2.6"> (×10</tspan><tspan font-size="7" dy="-3.8">10</tspan><tspan dy="3.8">Am</tspan><tspan font-size="7" dy="-3.8">-2</tspan><tspan dy="3.8">)</tspan></text>
</g></svg></body></html>
